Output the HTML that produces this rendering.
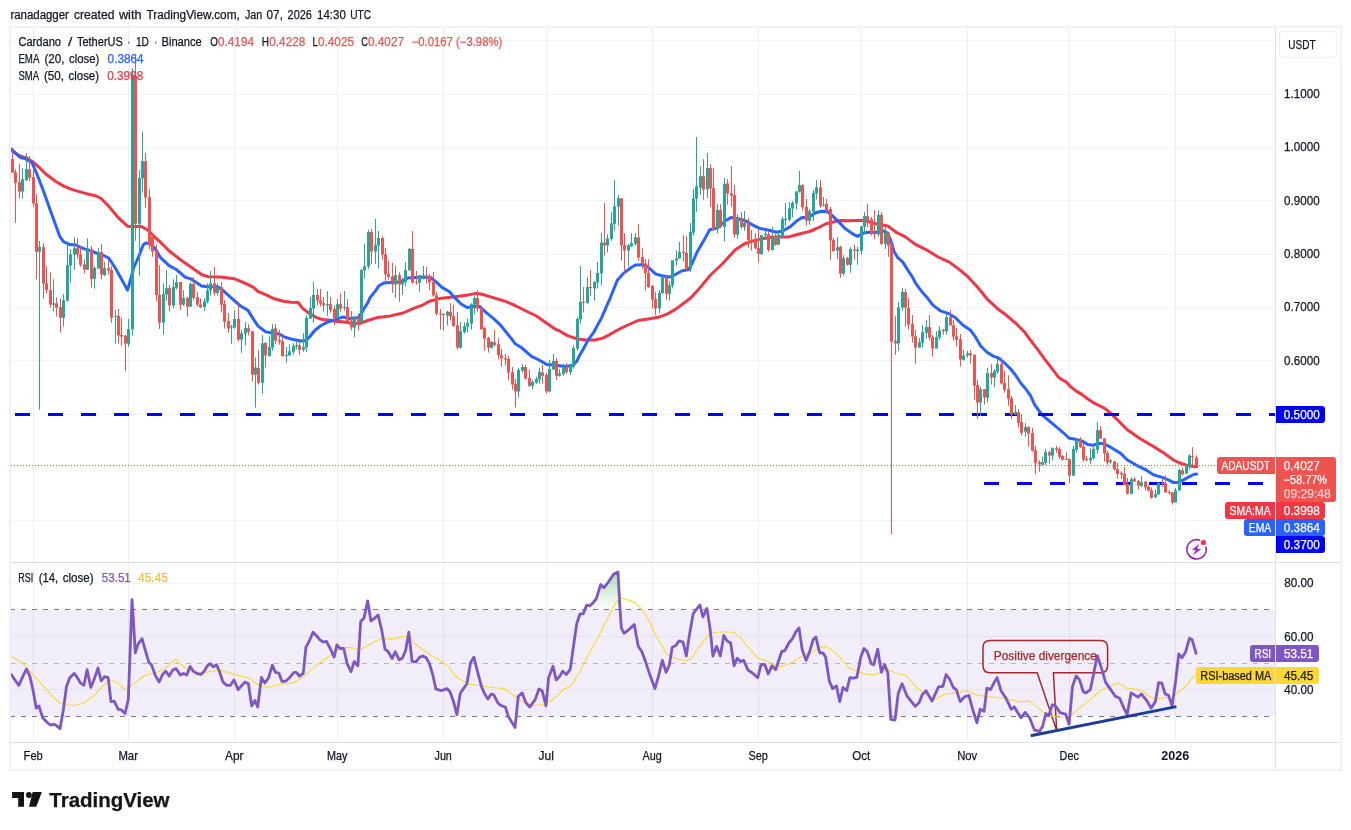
<!DOCTYPE html><html><head><meta charset="utf-8"><title>ADAUSDT</title>
<style>html,body{margin:0;padding:0;background:#fff;}body{width:1351px;height:830px;overflow:hidden;}svg{display:block;will-change:transform;font-family:"Liberation Sans",sans-serif;}</style></head><body>
<svg width="1351" height="830" viewBox="0 0 1351 830">
<defs>
<linearGradient id="gUp" x1="0" y1="571" x2="0" y2="609.5" gradientUnits="userSpaceOnUse"><stop offset="0" stop-color="#4caf50" stop-opacity="0.45"/><stop offset="1" stop-color="#4caf50" stop-opacity="0"/></linearGradient>
<linearGradient id="gDn" x1="0" y1="716" x2="0" y2="742" gradientUnits="userSpaceOnUse"><stop offset="0" stop-color="#ff5252" stop-opacity="0"/><stop offset="1" stop-color="#ff5252" stop-opacity="0.35"/></linearGradient>
<clipPath id="cUp"><rect x="11" y="563" width="1264" height="46.5"/></clipPath>
<clipPath id="cDn"><rect x="11" y="717" width="1264" height="25"/></clipPath>
<clipPath id="cPane"><rect x="11" y="28" width="1264" height="534"/></clipPath>
<clipPath id="cRsi"><rect x="11" y="563" width="1264" height="179"/></clipPath>
</defs>
<rect x="0" y="0" width="1351" height="830" fill="#ffffff"/>
<rect x="11" y="610" width="1264" height="106" fill="#f1eef9"/>
<rect x="11" y="40.00" width="1264" height="1" fill="#2a2e39" fill-opacity="0.06"/>
<rect x="11" y="94.00" width="1264" height="1" fill="#2a2e39" fill-opacity="0.06"/>
<rect x="11" y="147.00" width="1264" height="1" fill="#2a2e39" fill-opacity="0.06"/>
<rect x="11" y="200.00" width="1264" height="1" fill="#2a2e39" fill-opacity="0.06"/>
<rect x="11" y="254.00" width="1264" height="1" fill="#2a2e39" fill-opacity="0.06"/>
<rect x="11" y="307.00" width="1264" height="1" fill="#2a2e39" fill-opacity="0.06"/>
<rect x="11" y="360.00" width="1264" height="1" fill="#2a2e39" fill-opacity="0.06"/>
<rect x="11" y="414.00" width="1264" height="1" fill="#2a2e39" fill-opacity="0.06"/>
<rect x="11" y="467.00" width="1264" height="1" fill="#2a2e39" fill-opacity="0.06"/>
<rect x="11" y="520.00" width="1264" height="1" fill="#2a2e39" fill-opacity="0.06"/>
<rect x="11" y="583.00" width="1264" height="1" fill="#2a2e39" fill-opacity="0.06"/>
<rect x="11" y="636.00" width="1264" height="1" fill="#2a2e39" fill-opacity="0.06"/>
<rect x="11" y="689.00" width="1264" height="1" fill="#2a2e39" fill-opacity="0.06"/>
<rect x="33.00" y="28" width="1" height="714" fill="#2a2e39" fill-opacity="0.07"/>
<rect x="128.00" y="28" width="1" height="714" fill="#2a2e39" fill-opacity="0.07"/>
<rect x="234.00" y="28" width="1" height="714" fill="#2a2e39" fill-opacity="0.07"/>
<rect x="337.00" y="28" width="1" height="714" fill="#2a2e39" fill-opacity="0.07"/>
<rect x="443.00" y="28" width="1" height="714" fill="#2a2e39" fill-opacity="0.07"/>
<rect x="546.00" y="28" width="1" height="714" fill="#2a2e39" fill-opacity="0.07"/>
<rect x="652.00" y="28" width="1" height="714" fill="#2a2e39" fill-opacity="0.07"/>
<rect x="758.00" y="28" width="1" height="714" fill="#2a2e39" fill-opacity="0.07"/>
<rect x="861.00" y="28" width="1" height="714" fill="#2a2e39" fill-opacity="0.07"/>
<rect x="967.00" y="28" width="1" height="714" fill="#2a2e39" fill-opacity="0.07"/>
<rect x="1069.00" y="28" width="1" height="714" fill="#2a2e39" fill-opacity="0.07"/>
<rect x="1175.00" y="28" width="1" height="714" fill="#2a2e39" fill-opacity="0.07"/>
<rect x="10" y="27" width="1331" height="743" fill="none" stroke="#f2f2f3" stroke-width="2"/>
<rect x="1275" y="28" width="1" height="741" fill="#dfe0e4"/>
<rect x="11" y="742" width="1329" height="1" fill="#dfe0e4"/>
<rect x="11" y="562" width="1329" height="1" fill="#dfe0e4"/>
<g clip-path="url(#cPane)">
<polyline points="11.8,150.7 19.3,155.7 26.9,158.2 33.2,162.0 39.5,167.7 45.8,174.0 55.8,181.5 63.4,185.9 70.9,189.1 83.5,192.9 96.1,196.0 101.1,198.5 108.7,206.1 117.5,216.8 127.5,226.2 133.8,226.6 141.4,226.6 147.7,230.0 154.0,236.3 161.5,243.2 169.5,251.2 182.6,261.3 192.7,268.2 201.5,274.5 207.8,276.7 220.3,277.1 234.2,278.7 245.5,283.3 253.1,287.1 258.1,291.5 265.6,294.7 274.4,298.8 283.3,301.3 290.8,302.2 298.4,302.6 302.1,307.9 308.4,312.7 316.0,317.3 323.5,319.8 331.1,320.2 335.0,321.2 342.6,321.8 350.1,323.1 360.2,323.4 367.7,320.5 377.8,317.4 390.4,315.9 403.0,313.0 413.0,308.6 423.1,304.8 429.4,301.3 439.4,298.6 450.8,297.3 460.8,295.9 468.4,294.9 474.7,293.6 481.0,294.0 492.3,297.4 505.0,301.2 515.0,305.5 525.0,310.5 536.5,316.0 545.3,322.3 555.4,329.2 560.0,331.2 567.6,335.6 576.4,338.7 585.2,340.0 595.2,340.0 602.8,338.1 610.3,334.3 616.6,330.5 626.7,325.5 638.0,320.5 648.1,319.0 658.2,317.3 667.0,314.2 675.8,309.1 683.3,303.5 690.9,297.8 698.4,289.6 710.1,275.5 722.7,263.5 735.3,249.7 744.1,244.0 752.9,240.9 763.0,238.4 775.6,237.1 788.2,237.1 798.2,234.2 809.5,231.5 818.4,227.7 825.9,223.7 834.7,221.6 841.0,220.5 851.1,220.8 860.1,220.2 868.9,221.8 877.7,224.3 887.7,225.9 896.6,232.5 905.4,236.9 915.4,244.4 928.0,250.7 938.1,257.0 949.4,262.1 959.5,269.6 967.7,276.5 975.8,285.3 982.0,292.5 987.0,298.8 997.0,308.2 1007.1,315.8 1015.9,323.3 1024.7,332.2 1029.6,339.0 1034.5,345.3 1039.3,351.6 1044.1,358.3 1048.9,364.6 1053.7,370.8 1058.5,377.1 1062.4,380.0 1066.3,381.9 1070.1,386.3 1075.9,390.9 1081.7,394.4 1087.5,398.8 1093.2,402.6 1099.0,405.5 1104.8,408.4 1110.6,413.2 1116.4,418.8 1127.0,429.5 1139.5,438.3 1153.4,446.5 1163.5,452.8 1173.5,460.0 1179.3,462.8 1185.1,464.7 1190.8,466.1 1196.6,466.8" fill="none" stroke="#f23645" stroke-width="3.0" stroke-linejoin="round" stroke-linecap="round" />
<polyline points="11.8,149.4 15.5,153.2 20.6,157.6 25.6,158.9 31.9,162.6 36.9,174.0 43.2,190.3 49.5,208.0 55.8,225.6 59.6,236.0 63.4,241.7 69.7,244.6 76.0,245.1 83.5,248.6 89.8,250.5 96.1,253.0 103.6,255.5 108.7,258.0 115.0,267.5 121.3,278.8 127.5,290.1 129.4,283.8 133.8,267.5 138.9,256.1 143.3,244.8 145.8,242.9 151.4,244.2 155.9,249.8 160.3,257.4 169.1,265.6 176.3,269.5 185.1,277.1 191.4,279.2 201.5,285.9 207.8,286.7 217.8,286.7 222.9,290.3 230.4,297.2 240.5,306.0 248.0,310.4 253.1,318.6 258.1,326.1 265.6,331.8 270.7,332.8 278.2,333.7 285.8,337.5 293.3,339.6 300.9,340.9 305.9,340.6 309.7,336.8 314.7,330.5 321.0,325.5 328.6,321.7 335.0,319.7 342.6,317.1 350.1,318.4 358.9,317.6 362.1,312.4 363.9,308.7 367.7,302.9 370.2,297.4 375.3,291.1 379.0,285.7 384.1,282.9 391.6,282.3 400.4,281.9 408.0,277.9 415.5,277.5 423.1,277.0 430.6,277.5 435.7,281.7 442.0,287.4 449.5,291.8 454.5,297.4 460.8,303.7 467.1,307.5 473.4,306.6 479.7,306.6 486.0,312.4 493.6,318.6 499.8,324.3 503.8,329.2 511.4,338.6 515.1,343.7 521.4,347.5 531.5,356.3 539.0,360.0 546.6,364.4 555.4,365.3 565.5,366.6 573.0,365.3 576.8,361.3 579.5,355.5 583.1,349.5 587.7,340.6 594.0,331.8 601.5,317.9 610.3,297.8 617.3,280.2 622.9,273.9 630.5,268.0 635.5,265.0 641.8,264.7 648.1,267.2 655.6,273.9 661.9,275.8 669.5,277.1 675.8,274.3 682.1,270.8 688.4,269.7 692.1,263.5 697.2,251.8 703.5,241.1 709.7,229.8 714.8,228.5 717.7,227.7 725.2,221.0 730.9,217.5 737.8,218.8 745.4,220.7 752.9,225.1 759.2,228.2 768.0,230.0 776.8,232.2 783.1,230.8 790.7,226.4 797.0,220.7 802.0,217.5 808.3,217.7 814.6,213.2 820.9,211.2 827.2,211.4 832.2,215.7 838.5,221.6 844.8,228.3 852.3,233.6 857.5,236.3 863.8,233.1 868.9,232.2 875.2,232.5 882.7,230.6 887.7,233.1 891.5,242.6 894.0,251.4 897.8,257.7 902.9,262.1 907.9,270.2 912.9,277.8 915.4,282.8 921.7,291.6 926.6,296.9 932.9,305.1 940.4,310.8 948.0,313.3 955.5,317.7 963.1,325.2 970.6,330.3 975.6,337.2 980.7,346.0 987.0,352.3 993.3,356.1 998.3,357.9 1004.6,363.0 1010.9,369.3 1015.9,375.6 1020.9,383.2 1025.5,388.6 1030.5,395.7 1034.5,404.5 1042.0,414.8 1055.2,425.8 1064.0,433.3 1069.1,438.3 1075.4,439.2 1081.7,440.9 1088.0,444.6 1093.0,445.3 1098.0,443.4 1103.1,443.4 1110.6,447.2 1120.7,453.4 1127.0,459.7 1135.8,464.8 1145.8,469.8 1153.4,474.8 1162.2,477.4 1168.5,479.9 1173.5,482.6 1177.3,482.4 1183.6,479.9 1189.9,476.3 1193.7,474.5 1196.6,474.1" fill="none" stroke="#2962ff" stroke-width="3.0" stroke-linejoin="round" stroke-linecap="round" />
<rect x="15.0" y="413.0" width="15.0" height="3" fill="#0000ff"/>
<rect x="48.0" y="413.0" width="15.0" height="3" fill="#0000ff"/>
<rect x="81.0" y="413.0" width="15.0" height="3" fill="#0000ff"/>
<rect x="114.0" y="413.0" width="15.0" height="3" fill="#0000ff"/>
<rect x="147.0" y="413.0" width="15.0" height="3" fill="#0000ff"/>
<rect x="180.0" y="413.0" width="15.0" height="3" fill="#0000ff"/>
<rect x="213.0" y="413.0" width="15.0" height="3" fill="#0000ff"/>
<rect x="246.0" y="413.0" width="15.0" height="3" fill="#0000ff"/>
<rect x="279.0" y="413.0" width="15.0" height="3" fill="#0000ff"/>
<rect x="312.0" y="413.0" width="15.0" height="3" fill="#0000ff"/>
<rect x="345.0" y="413.0" width="15.0" height="3" fill="#0000ff"/>
<rect x="378.0" y="413.0" width="15.0" height="3" fill="#0000ff"/>
<rect x="411.0" y="413.0" width="15.0" height="3" fill="#0000ff"/>
<rect x="444.0" y="413.0" width="15.0" height="3" fill="#0000ff"/>
<rect x="477.0" y="413.0" width="15.0" height="3" fill="#0000ff"/>
<rect x="510.0" y="413.0" width="15.0" height="3" fill="#0000ff"/>
<rect x="543.0" y="413.0" width="15.0" height="3" fill="#0000ff"/>
<rect x="576.0" y="413.0" width="15.0" height="3" fill="#0000ff"/>
<rect x="609.0" y="413.0" width="15.0" height="3" fill="#0000ff"/>
<rect x="642.0" y="413.0" width="15.0" height="3" fill="#0000ff"/>
<rect x="675.0" y="413.0" width="15.0" height="3" fill="#0000ff"/>
<rect x="708.0" y="413.0" width="15.0" height="3" fill="#0000ff"/>
<rect x="741.0" y="413.0" width="15.0" height="3" fill="#0000ff"/>
<rect x="774.0" y="413.0" width="15.0" height="3" fill="#0000ff"/>
<rect x="807.0" y="413.0" width="15.0" height="3" fill="#0000ff"/>
<rect x="840.0" y="413.0" width="15.0" height="3" fill="#0000ff"/>
<rect x="873.0" y="413.0" width="15.0" height="3" fill="#0000ff"/>
<rect x="906.0" y="413.0" width="15.0" height="3" fill="#0000ff"/>
<rect x="939.0" y="413.0" width="15.0" height="3" fill="#0000ff"/>
<rect x="972.0" y="413.0" width="15.0" height="3" fill="#0000ff"/>
<rect x="1005.0" y="413.0" width="15.0" height="3" fill="#0000ff"/>
<rect x="1038.0" y="413.0" width="15.0" height="3" fill="#0000ff"/>
<rect x="1071.0" y="413.0" width="15.0" height="3" fill="#0000ff"/>
<rect x="1104.0" y="413.0" width="15.0" height="3" fill="#0000ff"/>
<rect x="1137.0" y="413.0" width="15.0" height="3" fill="#0000ff"/>
<rect x="1170.0" y="413.0" width="15.0" height="3" fill="#0000ff"/>
<rect x="1203.0" y="413.0" width="15.0" height="3" fill="#0000ff"/>
<rect x="1236.0" y="413.0" width="15.0" height="3" fill="#0000ff"/>
<rect x="1269.0" y="413.0" width="6.0" height="3" fill="#0000ff"/>
<rect x="984.0" y="482.0" width="15.0" height="3" fill="#0000ff"/>
<rect x="1017.0" y="482.0" width="15.0" height="3" fill="#0000ff"/>
<rect x="1050.0" y="482.0" width="15.0" height="3" fill="#0000ff"/>
<rect x="1083.0" y="482.0" width="15.0" height="3" fill="#0000ff"/>
<rect x="1116.0" y="482.0" width="15.0" height="3" fill="#0000ff"/>
<rect x="1149.0" y="482.0" width="15.0" height="3" fill="#0000ff"/>
<rect x="1182.0" y="482.0" width="15.0" height="3" fill="#0000ff"/>
<rect x="1215.0" y="482.0" width="15.0" height="3" fill="#0000ff"/>
<rect x="1248.0" y="482.0" width="15.0" height="3" fill="#0000ff"/>
<rect x="12" y="147.5" width="1" height="25.2" fill="#ef5350"/>
<rect x="11" y="159.1" width="3" height="13.6" fill="#ef5350"/>
<rect x="15" y="169.2" width="1" height="53.6" fill="#ef5350"/>
<rect x="14" y="172.1" width="3" height="10.7" fill="#ef5350"/>
<rect x="19" y="163.9" width="1" height="34.6" fill="#ef5350"/>
<rect x="18" y="182.2" width="3" height="9.4" fill="#ef5350"/>
<rect x="22" y="167.9" width="1" height="30.6" fill="#26a69a"/>
<rect x="21" y="179.3" width="3" height="12.3" fill="#26a69a"/>
<rect x="26" y="153.0" width="1" height="27.9" fill="#26a69a"/>
<rect x="25" y="169.2" width="3" height="10.8" fill="#26a69a"/>
<rect x="29" y="156.1" width="1" height="25.4" fill="#ef5350"/>
<rect x="28" y="169.2" width="3" height="8.5" fill="#ef5350"/>
<rect x="33" y="170.2" width="1" height="36.5" fill="#ef5350"/>
<rect x="32" y="177.1" width="3" height="26.4" fill="#ef5350"/>
<rect x="36" y="194.1" width="1" height="85.3" fill="#ef5350"/>
<rect x="35" y="203.3" width="3" height="48.4" fill="#ef5350"/>
<rect x="39" y="241.0" width="1" height="168.6" fill="#26a69a"/>
<rect x="38" y="247.1" width="3" height="4.6" fill="#26a69a"/>
<rect x="43" y="243.3" width="1" height="55.0" fill="#ef5350"/>
<rect x="42" y="247.1" width="3" height="36.5" fill="#ef5350"/>
<rect x="46" y="266.2" width="1" height="27.1" fill="#ef5350"/>
<rect x="45" y="283.2" width="3" height="6.9" fill="#ef5350"/>
<rect x="50" y="272.2" width="1" height="35.5" fill="#ef5350"/>
<rect x="49" y="290.1" width="3" height="14.5" fill="#ef5350"/>
<rect x="53" y="279.2" width="1" height="32.3" fill="#26a69a"/>
<rect x="52" y="303.3" width="3" height="1.3" fill="#26a69a"/>
<rect x="56" y="297.4" width="1" height="19.1" fill="#ef5350"/>
<rect x="55" y="303.3" width="3" height="4.4" fill="#ef5350"/>
<rect x="60" y="298.3" width="1" height="34.3" fill="#ef5350"/>
<rect x="59" y="307.1" width="3" height="10.7" fill="#ef5350"/>
<rect x="63" y="294.1" width="1" height="32.5" fill="#26a69a"/>
<rect x="62" y="300.2" width="3" height="17.6" fill="#26a69a"/>
<rect x="67" y="242.9" width="1" height="58.5" fill="#26a69a"/>
<rect x="66" y="265.2" width="3" height="35.6" fill="#26a69a"/>
<rect x="70" y="249.2" width="1" height="33.4" fill="#26a69a"/>
<rect x="69" y="254.2" width="3" height="11.4" fill="#26a69a"/>
<rect x="74" y="237.3" width="1" height="32.4" fill="#26a69a"/>
<rect x="73" y="248.2" width="3" height="6.4" fill="#26a69a"/>
<rect x="77" y="238.3" width="1" height="20.3" fill="#ef5350"/>
<rect x="76" y="248.2" width="3" height="6.4" fill="#ef5350"/>
<rect x="80" y="246.1" width="1" height="20.7" fill="#ef5350"/>
<rect x="79" y="254.2" width="3" height="10.5" fill="#ef5350"/>
<rect x="84" y="259.3" width="1" height="14.2" fill="#ef5350"/>
<rect x="83" y="264.3" width="3" height="5.4" fill="#ef5350"/>
<rect x="87" y="238.3" width="1" height="31.4" fill="#26a69a"/>
<rect x="86" y="248.6" width="3" height="21.1" fill="#26a69a"/>
<rect x="91" y="246.1" width="1" height="41.5" fill="#ef5350"/>
<rect x="90" y="249.2" width="3" height="29.6" fill="#ef5350"/>
<rect x="94" y="266.2" width="1" height="22.4" fill="#26a69a"/>
<rect x="93" y="268.1" width="3" height="10.7" fill="#26a69a"/>
<rect x="98" y="248.2" width="1" height="20.3" fill="#26a69a"/>
<rect x="97" y="252.1" width="3" height="16.4" fill="#26a69a"/>
<rect x="101" y="244.2" width="1" height="35.2" fill="#ef5350"/>
<rect x="100" y="252.1" width="3" height="22.3" fill="#ef5350"/>
<rect x="104" y="262.2" width="1" height="13.8" fill="#26a69a"/>
<rect x="103" y="268.1" width="3" height="6.9" fill="#26a69a"/>
<rect x="108" y="259.9" width="1" height="14.5" fill="#ef5350"/>
<rect x="107" y="268.1" width="3" height="2.5" fill="#ef5350"/>
<rect x="111" y="266.2" width="1" height="56.6" fill="#ef5350"/>
<rect x="110" y="270.0" width="3" height="47.8" fill="#ef5350"/>
<rect x="115" y="310.2" width="1" height="33.5" fill="#26a69a"/>
<rect x="114" y="315.7" width="3" height="1.1" fill="#26a69a"/>
<rect x="118" y="309.0" width="1" height="34.7" fill="#ef5350"/>
<rect x="117" y="315.9" width="3" height="19.6" fill="#ef5350"/>
<rect x="121" y="318.0" width="1" height="27.8" fill="#ef5350"/>
<rect x="120" y="334.8" width="3" height="1.8" fill="#ef5350"/>
<rect x="125" y="334.8" width="1" height="35.9" fill="#ef5350"/>
<rect x="124" y="335.7" width="3" height="8.0" fill="#ef5350"/>
<rect x="128" y="319.0" width="1" height="27.7" fill="#26a69a"/>
<rect x="127" y="329.1" width="3" height="14.6" fill="#26a69a"/>
<rect x="132" y="68.2" width="1" height="267.5" fill="#26a69a"/>
<rect x="131" y="74.5" width="3" height="254.9" fill="#26a69a"/>
<rect x="135" y="54.4" width="1" height="186.4" fill="#ef5350"/>
<rect x="134" y="75.8" width="3" height="147.9" fill="#ef5350"/>
<rect x="139" y="170.2" width="1" height="105.4" fill="#26a69a"/>
<rect x="138" y="178.1" width="3" height="45.6" fill="#26a69a"/>
<rect x="142" y="131.8" width="1" height="60.8" fill="#26a69a"/>
<rect x="141" y="161.1" width="3" height="17.3" fill="#26a69a"/>
<rect x="145" y="153.0" width="1" height="55.0" fill="#ef5350"/>
<rect x="144" y="161.1" width="3" height="36.5" fill="#ef5350"/>
<rect x="149" y="189.1" width="1" height="60.1" fill="#ef5350"/>
<rect x="148" y="197.3" width="3" height="47.3" fill="#ef5350"/>
<rect x="152" y="234.4" width="1" height="22.4" fill="#ef5350"/>
<rect x="151" y="237.0" width="3" height="14.7" fill="#ef5350"/>
<rect x="156" y="244.2" width="1" height="57.2" fill="#ef5350"/>
<rect x="155" y="251.1" width="3" height="44.0" fill="#ef5350"/>
<rect x="159" y="265.2" width="1" height="63.7" fill="#ef5350"/>
<rect x="158" y="294.9" width="3" height="27.7" fill="#ef5350"/>
<rect x="163" y="283.2" width="1" height="51.4" fill="#26a69a"/>
<rect x="162" y="294.1" width="3" height="28.5" fill="#26a69a"/>
<rect x="166" y="270.2" width="1" height="30.6" fill="#26a69a"/>
<rect x="165" y="288.2" width="3" height="6.3" fill="#26a69a"/>
<rect x="169" y="285.1" width="1" height="26.4" fill="#ef5350"/>
<rect x="168" y="288.2" width="3" height="17.3" fill="#ef5350"/>
<rect x="173" y="279.2" width="1" height="29.3" fill="#26a69a"/>
<rect x="172" y="287.0" width="3" height="18.5" fill="#26a69a"/>
<rect x="176" y="275.2" width="1" height="14.4" fill="#26a69a"/>
<rect x="175" y="282.2" width="3" height="5.5" fill="#26a69a"/>
<rect x="180" y="282.1" width="1" height="27.7" fill="#ef5350"/>
<rect x="179" y="282.1" width="3" height="22.6" fill="#ef5350"/>
<rect x="183" y="290.3" width="1" height="15.7" fill="#26a69a"/>
<rect x="182" y="298.1" width="3" height="6.6" fill="#26a69a"/>
<rect x="187" y="296.8" width="1" height="19.9" fill="#ef5350"/>
<rect x="186" y="297.8" width="3" height="8.8" fill="#ef5350"/>
<rect x="190" y="282.1" width="1" height="24.5" fill="#26a69a"/>
<rect x="189" y="284.0" width="3" height="22.6" fill="#26a69a"/>
<rect x="193" y="277.1" width="1" height="23.5" fill="#ef5350"/>
<rect x="192" y="284.0" width="3" height="13.8" fill="#ef5350"/>
<rect x="197" y="292.2" width="1" height="14.4" fill="#ef5350"/>
<rect x="196" y="297.2" width="3" height="7.5" fill="#ef5350"/>
<rect x="200" y="298.4" width="1" height="9.5" fill="#ef5350"/>
<rect x="199" y="304.4" width="3" height="2.9" fill="#ef5350"/>
<rect x="204" y="298.1" width="1" height="12.6" fill="#26a69a"/>
<rect x="203" y="301.3" width="3" height="5.6" fill="#26a69a"/>
<rect x="207" y="283.3" width="1" height="20.2" fill="#26a69a"/>
<rect x="206" y="290.3" width="3" height="11.3" fill="#26a69a"/>
<rect x="210" y="271.1" width="1" height="24.5" fill="#26a69a"/>
<rect x="209" y="283.3" width="3" height="7.2" fill="#26a69a"/>
<rect x="214" y="267.0" width="1" height="28.6" fill="#ef5350"/>
<rect x="213" y="283.3" width="3" height="9.5" fill="#ef5350"/>
<rect x="217" y="283.3" width="1" height="12.3" fill="#26a69a"/>
<rect x="216" y="286.9" width="3" height="5.9" fill="#26a69a"/>
<rect x="221" y="282.1" width="1" height="30.4" fill="#ef5350"/>
<rect x="220" y="287.1" width="3" height="17.6" fill="#ef5350"/>
<rect x="224" y="300.1" width="1" height="28.5" fill="#ef5350"/>
<rect x="223" y="304.1" width="3" height="17.6" fill="#ef5350"/>
<rect x="228" y="312.9" width="1" height="19.9" fill="#ef5350"/>
<rect x="227" y="321.1" width="3" height="7.5" fill="#ef5350"/>
<rect x="231" y="324.9" width="1" height="18.8" fill="#26a69a"/>
<rect x="230" y="326.5" width="3" height="1.1" fill="#26a69a"/>
<rect x="234" y="310.1" width="1" height="18.5" fill="#26a69a"/>
<rect x="233" y="319.0" width="3" height="8.6" fill="#26a69a"/>
<rect x="238" y="302.2" width="1" height="39.3" fill="#ef5350"/>
<rect x="237" y="319.0" width="3" height="20.6" fill="#ef5350"/>
<rect x="241" y="329.9" width="1" height="22.8" fill="#26a69a"/>
<rect x="240" y="333.3" width="3" height="6.3" fill="#26a69a"/>
<rect x="245" y="322.0" width="1" height="23.6" fill="#26a69a"/>
<rect x="244" y="328.0" width="3" height="5.6" fill="#26a69a"/>
<rect x="248" y="324.2" width="1" height="11.3" fill="#ef5350"/>
<rect x="247" y="328.3" width="3" height="3.5" fill="#ef5350"/>
<rect x="252" y="331.2" width="1" height="50.3" fill="#ef5350"/>
<rect x="251" y="331.2" width="3" height="43.5" fill="#ef5350"/>
<rect x="255" y="357.2" width="1" height="50.4" fill="#26a69a"/>
<rect x="254" y="367.4" width="3" height="7.3" fill="#26a69a"/>
<rect x="258" y="350.2" width="1" height="34.4" fill="#ef5350"/>
<rect x="257" y="368.0" width="3" height="14.7" fill="#ef5350"/>
<rect x="262" y="335.2" width="1" height="58.5" fill="#26a69a"/>
<rect x="261" y="343.3" width="3" height="39.4" fill="#26a69a"/>
<rect x="265" y="341.9" width="1" height="25.7" fill="#ef5350"/>
<rect x="264" y="343.0" width="3" height="12.5" fill="#ef5350"/>
<rect x="269" y="336.2" width="1" height="20.4" fill="#26a69a"/>
<rect x="268" y="347.0" width="3" height="9.1" fill="#26a69a"/>
<rect x="272" y="324.2" width="1" height="26.5" fill="#26a69a"/>
<rect x="271" y="329.0" width="3" height="18.6" fill="#26a69a"/>
<rect x="275" y="324.2" width="1" height="19.5" fill="#ef5350"/>
<rect x="274" y="328.3" width="3" height="12.4" fill="#ef5350"/>
<rect x="279" y="329.9" width="1" height="14.8" fill="#ef5350"/>
<rect x="278" y="340.1" width="3" height="1.7" fill="#ef5350"/>
<rect x="282" y="334.5" width="1" height="22.1" fill="#ef5350"/>
<rect x="281" y="341.3" width="3" height="14.8" fill="#ef5350"/>
<rect x="286" y="347.1" width="1" height="15.5" fill="#26a69a"/>
<rect x="285" y="355.1" width="3" height="1.0" fill="#26a69a"/>
<rect x="289" y="344.2" width="1" height="11.3" fill="#26a69a"/>
<rect x="288" y="351.3" width="3" height="4.2" fill="#26a69a"/>
<rect x="293" y="343.2" width="1" height="11.5" fill="#26a69a"/>
<rect x="292" y="346.0" width="3" height="5.8" fill="#26a69a"/>
<rect x="296" y="341.9" width="1" height="7.6" fill="#26a69a"/>
<rect x="295" y="345.2" width="3" height="1.2" fill="#26a69a"/>
<rect x="299" y="342.2" width="1" height="12.5" fill="#ef5350"/>
<rect x="298" y="345.2" width="3" height="4.6" fill="#ef5350"/>
<rect x="303" y="333.2" width="1" height="18.6" fill="#26a69a"/>
<rect x="302" y="347.1" width="3" height="2.8" fill="#26a69a"/>
<rect x="306" y="315.2" width="1" height="36.6" fill="#26a69a"/>
<rect x="305" y="318.0" width="3" height="29.6" fill="#26a69a"/>
<rect x="310" y="297.2" width="1" height="21.4" fill="#26a69a"/>
<rect x="309" y="308.1" width="3" height="10.5" fill="#26a69a"/>
<rect x="313" y="282.1" width="1" height="40.6" fill="#26a69a"/>
<rect x="312" y="295.0" width="3" height="13.5" fill="#26a69a"/>
<rect x="317" y="289.0" width="1" height="16.6" fill="#ef5350"/>
<rect x="316" y="295.0" width="3" height="5.6" fill="#ef5350"/>
<rect x="320" y="289.0" width="1" height="17.6" fill="#ef5350"/>
<rect x="319" y="300.3" width="3" height="3.2" fill="#ef5350"/>
<rect x="323" y="297.2" width="1" height="14.5" fill="#ef5350"/>
<rect x="322" y="303.1" width="3" height="2.3" fill="#ef5350"/>
<rect x="327" y="291.3" width="1" height="24.4" fill="#26a69a"/>
<rect x="326" y="304.1" width="3" height="1.3" fill="#26a69a"/>
<rect x="330" y="297.2" width="1" height="15.5" fill="#ef5350"/>
<rect x="329" y="304.1" width="3" height="5.7" fill="#ef5350"/>
<rect x="334" y="305.4" width="1" height="20.1" fill="#ef5350"/>
<rect x="333" y="308.9" width="3" height="9.1" fill="#ef5350"/>
<rect x="337" y="299.1" width="1" height="19.5" fill="#26a69a"/>
<rect x="336" y="304.2" width="3" height="13.8" fill="#26a69a"/>
<rect x="340" y="293.0" width="1" height="19.4" fill="#ef5350"/>
<rect x="339" y="304.2" width="3" height="4.4" fill="#ef5350"/>
<rect x="344" y="291.1" width="1" height="19.6" fill="#26a69a"/>
<rect x="343" y="307.0" width="3" height="1.0" fill="#26a69a"/>
<rect x="347" y="299.1" width="1" height="23.9" fill="#ef5350"/>
<rect x="346" y="307.2" width="3" height="14.0" fill="#ef5350"/>
<rect x="351" y="311.0" width="1" height="19.6" fill="#ef5350"/>
<rect x="350" y="320.5" width="3" height="7.0" fill="#ef5350"/>
<rect x="354" y="317.1" width="1" height="20.4" fill="#26a69a"/>
<rect x="353" y="318.0" width="3" height="9.5" fill="#26a69a"/>
<rect x="358" y="313.2" width="1" height="17.4" fill="#ef5350"/>
<rect x="357" y="318.0" width="3" height="5.9" fill="#ef5350"/>
<rect x="361" y="269.1" width="1" height="53.6" fill="#26a69a"/>
<rect x="360" y="270.1" width="3" height="52.6" fill="#26a69a"/>
<rect x="364" y="243.9" width="1" height="34.6" fill="#26a69a"/>
<rect x="363" y="266.3" width="3" height="4.1" fill="#26a69a"/>
<rect x="368" y="229.8" width="1" height="39.1" fill="#26a69a"/>
<rect x="367" y="232.0" width="3" height="34.6" fill="#26a69a"/>
<rect x="371" y="228.8" width="1" height="35.0" fill="#ef5350"/>
<rect x="370" y="232.0" width="3" height="19.5" fill="#ef5350"/>
<rect x="375" y="219.0" width="1" height="44.8" fill="#26a69a"/>
<rect x="374" y="245.2" width="3" height="6.3" fill="#26a69a"/>
<rect x="378" y="231.1" width="1" height="37.4" fill="#26a69a"/>
<rect x="377" y="238.0" width="3" height="7.6" fill="#26a69a"/>
<rect x="382" y="236.1" width="1" height="23.6" fill="#ef5350"/>
<rect x="381" y="238.0" width="3" height="16.6" fill="#ef5350"/>
<rect x="385" y="248.0" width="1" height="34.3" fill="#ef5350"/>
<rect x="384" y="254.3" width="3" height="20.1" fill="#ef5350"/>
<rect x="388" y="260.9" width="1" height="18.9" fill="#ef5350"/>
<rect x="387" y="274.1" width="3" height="2.6" fill="#ef5350"/>
<rect x="392" y="262.8" width="1" height="30.0" fill="#ef5350"/>
<rect x="391" y="276.4" width="3" height="8.1" fill="#ef5350"/>
<rect x="395" y="266.0" width="1" height="31.7" fill="#26a69a"/>
<rect x="394" y="275.1" width="3" height="9.4" fill="#26a69a"/>
<rect x="399" y="272.3" width="1" height="29.5" fill="#ef5350"/>
<rect x="398" y="275.1" width="3" height="9.4" fill="#ef5350"/>
<rect x="402" y="277.9" width="1" height="17.0" fill="#26a69a"/>
<rect x="401" y="281.7" width="3" height="2.8" fill="#26a69a"/>
<rect x="405" y="262.2" width="1" height="24.5" fill="#26a69a"/>
<rect x="404" y="270.1" width="3" height="12.2" fill="#26a69a"/>
<rect x="409" y="248.0" width="1" height="22.4" fill="#26a69a"/>
<rect x="408" y="249.0" width="3" height="21.4" fill="#26a69a"/>
<rect x="412" y="231.1" width="1" height="52.5" fill="#ef5350"/>
<rect x="411" y="249.0" width="3" height="33.7" fill="#ef5350"/>
<rect x="416" y="271.0" width="1" height="13.8" fill="#ef5350"/>
<rect x="415" y="282.3" width="3" height="1.0" fill="#ef5350"/>
<rect x="419" y="275.1" width="1" height="16.7" fill="#26a69a"/>
<rect x="418" y="275.4" width="3" height="7.3" fill="#26a69a"/>
<rect x="423" y="266.0" width="1" height="13.4" fill="#26a69a"/>
<rect x="422" y="275.7" width="3" height="1.0" fill="#26a69a"/>
<rect x="426" y="266.8" width="1" height="16.8" fill="#ef5350"/>
<rect x="425" y="275.7" width="3" height="1.2" fill="#ef5350"/>
<rect x="429" y="273.9" width="1" height="16.0" fill="#ef5350"/>
<rect x="428" y="276.4" width="3" height="5.9" fill="#ef5350"/>
<rect x="433" y="271.9" width="1" height="24.9" fill="#ef5350"/>
<rect x="432" y="281.9" width="3" height="13.6" fill="#ef5350"/>
<rect x="436" y="292.0" width="1" height="23.6" fill="#ef5350"/>
<rect x="435" y="295.3" width="3" height="18.4" fill="#ef5350"/>
<rect x="440" y="308.9" width="1" height="20.8" fill="#ef5350"/>
<rect x="439" y="313.5" width="3" height="1.0" fill="#ef5350"/>
<rect x="443" y="313.3" width="1" height="17.3" fill="#ef5350"/>
<rect x="442" y="314.0" width="3" height="1.0" fill="#ef5350"/>
<rect x="447" y="310.7" width="1" height="14.9" fill="#26a69a"/>
<rect x="446" y="311.8" width="3" height="3.8" fill="#26a69a"/>
<rect x="450" y="303.2" width="1" height="17.3" fill="#ef5350"/>
<rect x="449" y="311.8" width="3" height="4.7" fill="#ef5350"/>
<rect x="453" y="305.0" width="1" height="21.8" fill="#ef5350"/>
<rect x="452" y="316.2" width="3" height="9.7" fill="#ef5350"/>
<rect x="457" y="312.0" width="1" height="37.5" fill="#ef5350"/>
<rect x="456" y="325.2" width="3" height="22.4" fill="#ef5350"/>
<rect x="460" y="322.2" width="1" height="26.4" fill="#26a69a"/>
<rect x="459" y="331.2" width="3" height="16.6" fill="#26a69a"/>
<rect x="464" y="322.2" width="1" height="11.3" fill="#26a69a"/>
<rect x="463" y="326.2" width="3" height="5.7" fill="#26a69a"/>
<rect x="467" y="318.4" width="1" height="14.1" fill="#26a69a"/>
<rect x="466" y="323.1" width="3" height="3.5" fill="#26a69a"/>
<rect x="471" y="303.2" width="1" height="26.5" fill="#26a69a"/>
<rect x="470" y="304.2" width="3" height="19.5" fill="#26a69a"/>
<rect x="474" y="296.2" width="1" height="17.5" fill="#26a69a"/>
<rect x="473" y="298.0" width="3" height="6.6" fill="#26a69a"/>
<rect x="477" y="290.1" width="1" height="21.6" fill="#ef5350"/>
<rect x="476" y="298.0" width="3" height="10.6" fill="#ef5350"/>
<rect x="481" y="307.3" width="1" height="22.4" fill="#ef5350"/>
<rect x="480" y="308.0" width="3" height="21.0" fill="#ef5350"/>
<rect x="484" y="326.8" width="1" height="23.9" fill="#ef5350"/>
<rect x="483" y="328.1" width="3" height="10.7" fill="#ef5350"/>
<rect x="488" y="336.9" width="1" height="15.7" fill="#ef5350"/>
<rect x="487" y="337.8" width="3" height="9.8" fill="#ef5350"/>
<rect x="491" y="341.0" width="1" height="7.6" fill="#26a69a"/>
<rect x="490" y="341.9" width="3" height="5.9" fill="#26a69a"/>
<rect x="494" y="330.0" width="1" height="16.6" fill="#ef5350"/>
<rect x="493" y="342.3" width="3" height="2.5" fill="#ef5350"/>
<rect x="498" y="338.1" width="1" height="21.3" fill="#ef5350"/>
<rect x="497" y="344.2" width="3" height="11.1" fill="#ef5350"/>
<rect x="501" y="349.0" width="1" height="17.5" fill="#ef5350"/>
<rect x="500" y="355.2" width="3" height="3.2" fill="#ef5350"/>
<rect x="505" y="354.0" width="1" height="11.3" fill="#ef5350"/>
<rect x="504" y="358.4" width="3" height="1.3" fill="#ef5350"/>
<rect x="508" y="356.0" width="1" height="24.4" fill="#ef5350"/>
<rect x="507" y="359.0" width="3" height="13.6" fill="#ef5350"/>
<rect x="512" y="367.0" width="1" height="22.6" fill="#ef5350"/>
<rect x="511" y="372.0" width="3" height="12.6" fill="#ef5350"/>
<rect x="515" y="378.9" width="1" height="28.7" fill="#ef5350"/>
<rect x="514" y="384.0" width="3" height="7.5" fill="#ef5350"/>
<rect x="518" y="367.8" width="1" height="29.7" fill="#26a69a"/>
<rect x="517" y="369.9" width="3" height="21.6" fill="#26a69a"/>
<rect x="522" y="364.1" width="1" height="8.5" fill="#26a69a"/>
<rect x="521" y="367.0" width="3" height="3.7" fill="#26a69a"/>
<rect x="525" y="365.1" width="1" height="14.4" fill="#ef5350"/>
<rect x="524" y="367.0" width="3" height="11.7" fill="#ef5350"/>
<rect x="529" y="370.1" width="1" height="16.6" fill="#ef5350"/>
<rect x="528" y="377.9" width="3" height="7.9" fill="#ef5350"/>
<rect x="532" y="379.9" width="1" height="9.7" fill="#26a69a"/>
<rect x="531" y="382.1" width="3" height="3.7" fill="#26a69a"/>
<rect x="536" y="377.0" width="1" height="6.7" fill="#26a69a"/>
<rect x="535" y="378.9" width="3" height="3.8" fill="#26a69a"/>
<rect x="539" y="367.8" width="1" height="15.9" fill="#26a69a"/>
<rect x="538" y="372.0" width="3" height="7.5" fill="#26a69a"/>
<rect x="542" y="365.1" width="1" height="18.6" fill="#ef5350"/>
<rect x="541" y="372.4" width="3" height="3.4" fill="#ef5350"/>
<rect x="546" y="372.9" width="1" height="20.9" fill="#ef5350"/>
<rect x="545" y="374.9" width="3" height="16.6" fill="#ef5350"/>
<rect x="549" y="360.0" width="1" height="32.5" fill="#26a69a"/>
<rect x="548" y="369.1" width="3" height="22.4" fill="#26a69a"/>
<rect x="553" y="354.0" width="1" height="15.9" fill="#26a69a"/>
<rect x="552" y="361.0" width="3" height="8.5" fill="#26a69a"/>
<rect x="556" y="358.2" width="1" height="21.7" fill="#ef5350"/>
<rect x="555" y="361.0" width="3" height="14.8" fill="#ef5350"/>
<rect x="559" y="369.1" width="1" height="7.6" fill="#26a69a"/>
<rect x="558" y="373.3" width="3" height="2.5" fill="#26a69a"/>
<rect x="563" y="364.1" width="1" height="11.7" fill="#26a69a"/>
<rect x="562" y="367.8" width="3" height="6.1" fill="#26a69a"/>
<rect x="566" y="363.2" width="1" height="10.7" fill="#ef5350"/>
<rect x="565" y="367.8" width="3" height="4.2" fill="#ef5350"/>
<rect x="570" y="363.8" width="1" height="11.1" fill="#26a69a"/>
<rect x="569" y="365.3" width="3" height="6.7" fill="#26a69a"/>
<rect x="573" y="345.2" width="1" height="23.4" fill="#26a69a"/>
<rect x="572" y="348.1" width="3" height="18.5" fill="#26a69a"/>
<rect x="577" y="317.3" width="1" height="33.3" fill="#26a69a"/>
<rect x="576" y="318.8" width="3" height="29.7" fill="#26a69a"/>
<rect x="580" y="266.0" width="1" height="57.7" fill="#26a69a"/>
<rect x="579" y="301.8" width="3" height="17.5" fill="#26a69a"/>
<rect x="583" y="287.1" width="1" height="25.4" fill="#ef5350"/>
<rect x="582" y="301.8" width="3" height="1.0" fill="#ef5350"/>
<rect x="587" y="277.1" width="1" height="26.8" fill="#26a69a"/>
<rect x="586" y="287.1" width="3" height="15.8" fill="#26a69a"/>
<rect x="590" y="270.1" width="1" height="25.8" fill="#ef5350"/>
<rect x="589" y="287.1" width="3" height="1.0" fill="#ef5350"/>
<rect x="594" y="281.2" width="1" height="19.4" fill="#26a69a"/>
<rect x="593" y="282.1" width="3" height="6.3" fill="#26a69a"/>
<rect x="597" y="262.0" width="1" height="26.4" fill="#26a69a"/>
<rect x="596" y="273.0" width="3" height="9.5" fill="#26a69a"/>
<rect x="601" y="232.9" width="1" height="52.6" fill="#26a69a"/>
<rect x="600" y="242.4" width="3" height="30.9" fill="#26a69a"/>
<rect x="604" y="203.0" width="1" height="52.6" fill="#ef5350"/>
<rect x="603" y="242.4" width="3" height="3.1" fill="#ef5350"/>
<rect x="607" y="234.2" width="1" height="18.2" fill="#26a69a"/>
<rect x="606" y="238.6" width="3" height="6.9" fill="#26a69a"/>
<rect x="611" y="212.2" width="1" height="28.5" fill="#26a69a"/>
<rect x="610" y="223.5" width="3" height="15.5" fill="#26a69a"/>
<rect x="614" y="180.1" width="1" height="50.6" fill="#26a69a"/>
<rect x="613" y="206.2" width="3" height="17.7" fill="#26a69a"/>
<rect x="618" y="195.2" width="1" height="30.4" fill="#26a69a"/>
<rect x="617" y="198.3" width="3" height="8.2" fill="#26a69a"/>
<rect x="621" y="198.3" width="1" height="62.3" fill="#ef5350"/>
<rect x="620" y="198.3" width="3" height="47.2" fill="#ef5350"/>
<rect x="624" y="233.2" width="1" height="40.6" fill="#ef5350"/>
<rect x="623" y="245.2" width="3" height="5.3" fill="#ef5350"/>
<rect x="628" y="244.2" width="1" height="22.2" fill="#26a69a"/>
<rect x="627" y="245.2" width="3" height="5.3" fill="#26a69a"/>
<rect x="631" y="233.2" width="1" height="13.6" fill="#26a69a"/>
<rect x="630" y="243.2" width="3" height="2.9" fill="#26a69a"/>
<rect x="635" y="233.2" width="1" height="12.3" fill="#26a69a"/>
<rect x="634" y="237.3" width="3" height="6.3" fill="#26a69a"/>
<rect x="638" y="224.1" width="1" height="36.5" fill="#ef5350"/>
<rect x="637" y="237.3" width="3" height="20.2" fill="#ef5350"/>
<rect x="642" y="248.3" width="1" height="21.2" fill="#ef5350"/>
<rect x="641" y="257.0" width="3" height="6.6" fill="#ef5350"/>
<rect x="645" y="259.2" width="1" height="31.3" fill="#ef5350"/>
<rect x="644" y="263.3" width="3" height="10.0" fill="#ef5350"/>
<rect x="648" y="259.2" width="1" height="28.6" fill="#ef5350"/>
<rect x="647" y="273.0" width="3" height="14.1" fill="#ef5350"/>
<rect x="652" y="285.0" width="1" height="23.5" fill="#ef5350"/>
<rect x="651" y="285.9" width="3" height="13.8" fill="#ef5350"/>
<rect x="655" y="292.2" width="1" height="22.6" fill="#ef5350"/>
<rect x="654" y="299.1" width="3" height="9.4" fill="#ef5350"/>
<rect x="659" y="290.3" width="1" height="23.2" fill="#26a69a"/>
<rect x="658" y="293.0" width="3" height="15.5" fill="#26a69a"/>
<rect x="662" y="275.2" width="1" height="18.6" fill="#26a69a"/>
<rect x="661" y="277.4" width="3" height="15.6" fill="#26a69a"/>
<rect x="666" y="275.2" width="1" height="24.5" fill="#ef5350"/>
<rect x="665" y="277.9" width="3" height="15.9" fill="#ef5350"/>
<rect x="669" y="281.2" width="1" height="19.4" fill="#26a69a"/>
<rect x="668" y="285.2" width="3" height="8.6" fill="#26a69a"/>
<rect x="672" y="260.3" width="1" height="28.1" fill="#26a69a"/>
<rect x="671" y="260.3" width="3" height="25.2" fill="#26a69a"/>
<rect x="676" y="250.2" width="1" height="15.5" fill="#26a69a"/>
<rect x="675" y="258.4" width="3" height="2.3" fill="#26a69a"/>
<rect x="679" y="242.0" width="1" height="16.7" fill="#26a69a"/>
<rect x="678" y="252.1" width="3" height="6.3" fill="#26a69a"/>
<rect x="683" y="235.2" width="1" height="26.4" fill="#ef5350"/>
<rect x="682" y="252.0" width="3" height="1.0" fill="#ef5350"/>
<rect x="686" y="236.1" width="1" height="35.0" fill="#ef5350"/>
<rect x="685" y="252.9" width="3" height="16.0" fill="#ef5350"/>
<rect x="690" y="223.1" width="1" height="48.6" fill="#26a69a"/>
<rect x="689" y="231.9" width="3" height="36.9" fill="#26a69a"/>
<rect x="693" y="189.1" width="1" height="46.5" fill="#26a69a"/>
<rect x="692" y="198.5" width="3" height="34.2" fill="#26a69a"/>
<rect x="696" y="136.9" width="1" height="74.9" fill="#26a69a"/>
<rect x="695" y="186.3" width="3" height="12.3" fill="#26a69a"/>
<rect x="700" y="166.2" width="1" height="28.5" fill="#26a69a"/>
<rect x="699" y="176.2" width="3" height="11.4" fill="#26a69a"/>
<rect x="703" y="159.2" width="1" height="40.5" fill="#ef5350"/>
<rect x="702" y="176.2" width="3" height="13.5" fill="#ef5350"/>
<rect x="707" y="153.0" width="1" height="45.0" fill="#26a69a"/>
<rect x="706" y="168.1" width="3" height="21.3" fill="#26a69a"/>
<rect x="710" y="164.0" width="1" height="42.8" fill="#ef5350"/>
<rect x="709" y="168.1" width="3" height="20.4" fill="#ef5350"/>
<rect x="713" y="168.1" width="1" height="61.3" fill="#ef5350"/>
<rect x="712" y="188.1" width="3" height="41.3" fill="#ef5350"/>
<rect x="717" y="204.1" width="1" height="29.5" fill="#26a69a"/>
<rect x="716" y="210.0" width="3" height="19.5" fill="#26a69a"/>
<rect x="720" y="204.1" width="1" height="24.2" fill="#ef5350"/>
<rect x="719" y="210.0" width="3" height="17.2" fill="#ef5350"/>
<rect x="724" y="178.1" width="1" height="63.5" fill="#26a69a"/>
<rect x="723" y="184.1" width="3" height="42.7" fill="#26a69a"/>
<rect x="727" y="179.1" width="1" height="25.7" fill="#ef5350"/>
<rect x="726" y="183.4" width="3" height="10.2" fill="#ef5350"/>
<rect x="731" y="166.2" width="1" height="40.5" fill="#ef5350"/>
<rect x="730" y="193.3" width="3" height="2.4" fill="#ef5350"/>
<rect x="734" y="185.1" width="1" height="52.6" fill="#ef5350"/>
<rect x="733" y="195.2" width="3" height="39.4" fill="#ef5350"/>
<rect x="737" y="214.1" width="1" height="24.7" fill="#26a69a"/>
<rect x="736" y="218.1" width="3" height="16.5" fill="#26a69a"/>
<rect x="741" y="212.1" width="1" height="16.7" fill="#ef5350"/>
<rect x="740" y="218.1" width="3" height="8.9" fill="#ef5350"/>
<rect x="744" y="211.1" width="1" height="19.7" fill="#26a69a"/>
<rect x="743" y="223.0" width="3" height="4.0" fill="#26a69a"/>
<rect x="748" y="218.1" width="1" height="29.7" fill="#ef5350"/>
<rect x="747" y="223.0" width="3" height="17.3" fill="#ef5350"/>
<rect x="751" y="230.1" width="1" height="20.5" fill="#ef5350"/>
<rect x="750" y="240.0" width="3" height="2.5" fill="#ef5350"/>
<rect x="755" y="233.3" width="1" height="15.5" fill="#ef5350"/>
<rect x="754" y="239.6" width="3" height="8.8" fill="#ef5350"/>
<rect x="758" y="229.3" width="1" height="33.2" fill="#ef5350"/>
<rect x="757" y="248.1" width="3" height="5.8" fill="#ef5350"/>
<rect x="761" y="235.0" width="1" height="19.7" fill="#26a69a"/>
<rect x="760" y="235.2" width="3" height="18.9" fill="#26a69a"/>
<rect x="765" y="230.1" width="1" height="9.5" fill="#26a69a"/>
<rect x="764" y="233.7" width="3" height="1.3" fill="#26a69a"/>
<rect x="768" y="231.2" width="1" height="20.6" fill="#ef5350"/>
<rect x="767" y="234.2" width="3" height="15.9" fill="#ef5350"/>
<rect x="772" y="227.0" width="1" height="23.6" fill="#26a69a"/>
<rect x="771" y="236.7" width="3" height="13.4" fill="#26a69a"/>
<rect x="775" y="234.0" width="1" height="11.9" fill="#ef5350"/>
<rect x="774" y="236.7" width="3" height="8.0" fill="#ef5350"/>
<rect x="778" y="231.5" width="1" height="13.2" fill="#26a69a"/>
<rect x="777" y="235.0" width="3" height="9.7" fill="#26a69a"/>
<rect x="782" y="216.9" width="1" height="20.8" fill="#26a69a"/>
<rect x="781" y="219.1" width="3" height="17.4" fill="#26a69a"/>
<rect x="785" y="203.0" width="1" height="22.7" fill="#26a69a"/>
<rect x="784" y="218.8" width="3" height="1.1" fill="#26a69a"/>
<rect x="789" y="202.1" width="1" height="19.5" fill="#26a69a"/>
<rect x="788" y="208.2" width="3" height="11.5" fill="#26a69a"/>
<rect x="792" y="201.0" width="1" height="16.5" fill="#26a69a"/>
<rect x="791" y="202.9" width="3" height="5.7" fill="#26a69a"/>
<rect x="796" y="191.4" width="1" height="18.0" fill="#26a69a"/>
<rect x="795" y="191.4" width="3" height="12.1" fill="#26a69a"/>
<rect x="799" y="170.9" width="1" height="21.8" fill="#26a69a"/>
<rect x="798" y="185.1" width="3" height="6.6" fill="#26a69a"/>
<rect x="802" y="184.1" width="1" height="26.5" fill="#ef5350"/>
<rect x="801" y="185.1" width="3" height="22.2" fill="#ef5350"/>
<rect x="806" y="199.0" width="1" height="26.7" fill="#ef5350"/>
<rect x="805" y="207.0" width="3" height="13.7" fill="#ef5350"/>
<rect x="809" y="209.0" width="1" height="15.5" fill="#26a69a"/>
<rect x="808" y="211.1" width="3" height="9.6" fill="#26a69a"/>
<rect x="813" y="190.1" width="1" height="30.6" fill="#26a69a"/>
<rect x="812" y="192.9" width="3" height="18.8" fill="#26a69a"/>
<rect x="816" y="180.1" width="1" height="19.4" fill="#26a69a"/>
<rect x="815" y="187.3" width="3" height="6.2" fill="#26a69a"/>
<rect x="820" y="180.1" width="1" height="27.5" fill="#ef5350"/>
<rect x="819" y="187.3" width="3" height="18.3" fill="#ef5350"/>
<rect x="823" y="196.9" width="1" height="9.7" fill="#26a69a"/>
<rect x="822" y="204.6" width="3" height="1.0" fill="#26a69a"/>
<rect x="826" y="199.0" width="1" height="14.6" fill="#ef5350"/>
<rect x="825" y="204.1" width="3" height="5.9" fill="#ef5350"/>
<rect x="830" y="207.0" width="1" height="52.8" fill="#ef5350"/>
<rect x="829" y="209.0" width="3" height="31.5" fill="#ef5350"/>
<rect x="833" y="238.0" width="1" height="13.8" fill="#ef5350"/>
<rect x="832" y="240.0" width="3" height="11.0" fill="#ef5350"/>
<rect x="837" y="237.1" width="1" height="21.8" fill="#26a69a"/>
<rect x="836" y="247.2" width="3" height="3.4" fill="#26a69a"/>
<rect x="840" y="245.9" width="1" height="31.9" fill="#ef5350"/>
<rect x="839" y="246.8" width="3" height="26.8" fill="#ef5350"/>
<rect x="843" y="255.1" width="1" height="20.7" fill="#26a69a"/>
<rect x="842" y="258.1" width="3" height="15.5" fill="#26a69a"/>
<rect x="847" y="256.9" width="1" height="8.8" fill="#ef5350"/>
<rect x="846" y="257.9" width="3" height="6.9" fill="#ef5350"/>
<rect x="850" y="247.2" width="1" height="25.5" fill="#26a69a"/>
<rect x="849" y="249.1" width="3" height="15.7" fill="#26a69a"/>
<rect x="854" y="244.9" width="1" height="14.7" fill="#ef5350"/>
<rect x="853" y="249.4" width="3" height="1.3" fill="#ef5350"/>
<rect x="857" y="246.9" width="1" height="17.8" fill="#26a69a"/>
<rect x="856" y="249.8" width="3" height="1.2" fill="#26a69a"/>
<rect x="861" y="226.2" width="1" height="28.3" fill="#26a69a"/>
<rect x="860" y="226.2" width="3" height="24.5" fill="#26a69a"/>
<rect x="864" y="212.1" width="1" height="21.6" fill="#26a69a"/>
<rect x="863" y="216.1" width="3" height="10.5" fill="#26a69a"/>
<rect x="867" y="204.2" width="1" height="23.3" fill="#ef5350"/>
<rect x="866" y="216.1" width="3" height="4.4" fill="#ef5350"/>
<rect x="871" y="217.1" width="1" height="18.5" fill="#ef5350"/>
<rect x="870" y="219.3" width="3" height="14.4" fill="#ef5350"/>
<rect x="874" y="210.1" width="1" height="28.7" fill="#ef5350"/>
<rect x="873" y="232.7" width="3" height="1.7" fill="#ef5350"/>
<rect x="878" y="210.1" width="1" height="26.4" fill="#26a69a"/>
<rect x="877" y="214.9" width="3" height="19.5" fill="#26a69a"/>
<rect x="881" y="212.1" width="1" height="32.7" fill="#ef5350"/>
<rect x="880" y="214.9" width="3" height="28.9" fill="#ef5350"/>
<rect x="885" y="226.2" width="1" height="22.7" fill="#26a69a"/>
<rect x="884" y="232.5" width="3" height="11.3" fill="#26a69a"/>
<rect x="888" y="232.5" width="1" height="24.5" fill="#ef5350"/>
<rect x="887" y="232.5" width="3" height="13.2" fill="#ef5350"/>
<rect x="891" y="241.3" width="1" height="292.7" fill="#ef5350"/>
<rect x="890" y="245.1" width="3" height="96.5" fill="#ef5350"/>
<rect x="895" y="316.2" width="1" height="38.6" fill="#ef5350"/>
<rect x="894" y="341.0" width="3" height="2.5" fill="#ef5350"/>
<rect x="898" y="302.2" width="1" height="48.5" fill="#26a69a"/>
<rect x="897" y="307.4" width="3" height="36.1" fill="#26a69a"/>
<rect x="902" y="288.1" width="1" height="22.7" fill="#26a69a"/>
<rect x="901" y="292.0" width="3" height="15.6" fill="#26a69a"/>
<rect x="905" y="289.1" width="1" height="37.6" fill="#ef5350"/>
<rect x="904" y="292.0" width="3" height="15.6" fill="#ef5350"/>
<rect x="908" y="298.2" width="1" height="31.4" fill="#ef5350"/>
<rect x="907" y="308.0" width="3" height="16.6" fill="#ef5350"/>
<rect x="912" y="315.2" width="1" height="27.4" fill="#ef5350"/>
<rect x="911" y="324.0" width="3" height="12.6" fill="#ef5350"/>
<rect x="915" y="330.0" width="1" height="33.6" fill="#ef5350"/>
<rect x="914" y="336.3" width="3" height="11.3" fill="#ef5350"/>
<rect x="919" y="338.1" width="1" height="9.5" fill="#26a69a"/>
<rect x="918" y="342.2" width="3" height="5.4" fill="#26a69a"/>
<rect x="922" y="325.2" width="1" height="22.4" fill="#26a69a"/>
<rect x="921" y="332.2" width="3" height="10.4" fill="#26a69a"/>
<rect x="926" y="320.2" width="1" height="18.2" fill="#26a69a"/>
<rect x="925" y="327.1" width="3" height="5.7" fill="#26a69a"/>
<rect x="929" y="315.2" width="1" height="25.4" fill="#ef5350"/>
<rect x="928" y="327.1" width="3" height="10.5" fill="#ef5350"/>
<rect x="932" y="335.0" width="1" height="21.7" fill="#ef5350"/>
<rect x="931" y="337.2" width="3" height="11.3" fill="#ef5350"/>
<rect x="936" y="331.3" width="1" height="17.2" fill="#26a69a"/>
<rect x="935" y="337.2" width="3" height="11.3" fill="#26a69a"/>
<rect x="939" y="326.2" width="1" height="13.5" fill="#26a69a"/>
<rect x="938" y="330.3" width="3" height="7.3" fill="#26a69a"/>
<rect x="943" y="329.0" width="1" height="5.7" fill="#ef5350"/>
<rect x="942" y="330.0" width="3" height="1.0" fill="#ef5350"/>
<rect x="946" y="313.3" width="1" height="21.4" fill="#26a69a"/>
<rect x="945" y="317.1" width="3" height="14.2" fill="#26a69a"/>
<rect x="950" y="310.1" width="1" height="15.4" fill="#ef5350"/>
<rect x="949" y="317.1" width="3" height="8.4" fill="#ef5350"/>
<rect x="953" y="320.2" width="1" height="20.4" fill="#ef5350"/>
<rect x="952" y="325.2" width="3" height="11.4" fill="#ef5350"/>
<rect x="956" y="328.0" width="1" height="18.6" fill="#ef5350"/>
<rect x="955" y="336.3" width="3" height="3.4" fill="#ef5350"/>
<rect x="960" y="334.0" width="1" height="32.5" fill="#ef5350"/>
<rect x="959" y="339.1" width="3" height="20.4" fill="#ef5350"/>
<rect x="963" y="350.1" width="1" height="10.6" fill="#26a69a"/>
<rect x="962" y="355.4" width="3" height="4.4" fill="#26a69a"/>
<rect x="967" y="351.0" width="1" height="6.7" fill="#26a69a"/>
<rect x="966" y="353.3" width="3" height="2.1" fill="#26a69a"/>
<rect x="970" y="350.1" width="1" height="13.5" fill="#ef5350"/>
<rect x="969" y="353.3" width="3" height="2.1" fill="#ef5350"/>
<rect x="974" y="354.2" width="1" height="45.7" fill="#ef5350"/>
<rect x="973" y="354.8" width="3" height="30.9" fill="#ef5350"/>
<rect x="977" y="380.0" width="1" height="38.8" fill="#ef5350"/>
<rect x="976" y="385.0" width="3" height="17.6" fill="#ef5350"/>
<rect x="980" y="386.9" width="1" height="29.0" fill="#26a69a"/>
<rect x="979" y="389.2" width="3" height="13.4" fill="#26a69a"/>
<rect x="984" y="389.2" width="1" height="15.3" fill="#ef5350"/>
<rect x="983" y="389.2" width="3" height="8.4" fill="#ef5350"/>
<rect x="987" y="368.0" width="1" height="34.6" fill="#26a69a"/>
<rect x="986" y="373.0" width="3" height="24.6" fill="#26a69a"/>
<rect x="991" y="364.2" width="1" height="20.5" fill="#ef5350"/>
<rect x="990" y="373.0" width="3" height="4.5" fill="#ef5350"/>
<rect x="994" y="369.0" width="1" height="18.6" fill="#26a69a"/>
<rect x="993" y="371.2" width="3" height="6.3" fill="#26a69a"/>
<rect x="997" y="359.0" width="1" height="14.7" fill="#26a69a"/>
<rect x="996" y="364.2" width="3" height="7.6" fill="#26a69a"/>
<rect x="1001" y="357.3" width="1" height="27.3" fill="#ef5350"/>
<rect x="1000" y="364.2" width="3" height="19.2" fill="#ef5350"/>
<rect x="1004" y="370.2" width="1" height="22.4" fill="#ef5350"/>
<rect x="1003" y="383.1" width="3" height="6.8" fill="#ef5350"/>
<rect x="1008" y="375.3" width="1" height="30.5" fill="#ef5350"/>
<rect x="1007" y="389.2" width="3" height="9.4" fill="#ef5350"/>
<rect x="1011" y="396.1" width="1" height="22.7" fill="#ef5350"/>
<rect x="1010" y="398.2" width="3" height="16.4" fill="#ef5350"/>
<rect x="1015" y="405.2" width="1" height="9.4" fill="#26a69a"/>
<rect x="1014" y="412.1" width="3" height="2.5" fill="#26a69a"/>
<rect x="1018" y="409.2" width="1" height="18.4" fill="#ef5350"/>
<rect x="1017" y="412.1" width="3" height="10.7" fill="#ef5350"/>
<rect x="1021" y="414.1" width="1" height="21.6" fill="#ef5350"/>
<rect x="1020" y="422.1" width="3" height="10.7" fill="#ef5350"/>
<rect x="1025" y="423.1" width="1" height="13.5" fill="#26a69a"/>
<rect x="1024" y="427.1" width="3" height="4.6" fill="#26a69a"/>
<rect x="1028" y="426.2" width="1" height="20.4" fill="#ef5350"/>
<rect x="1027" y="427.1" width="3" height="6.5" fill="#ef5350"/>
<rect x="1032" y="428.0" width="1" height="23.6" fill="#ef5350"/>
<rect x="1031" y="432.9" width="3" height="18.0" fill="#ef5350"/>
<rect x="1035" y="445.9" width="1" height="28.1" fill="#ef5350"/>
<rect x="1034" y="450.3" width="3" height="12.6" fill="#ef5350"/>
<rect x="1039" y="460.1" width="1" height="11.6" fill="#ef5350"/>
<rect x="1038" y="462.3" width="3" height="2.1" fill="#ef5350"/>
<rect x="1042" y="456.8" width="1" height="8.9" fill="#26a69a"/>
<rect x="1041" y="462.3" width="3" height="2.5" fill="#26a69a"/>
<rect x="1045" y="449.0" width="1" height="16.1" fill="#26a69a"/>
<rect x="1044" y="452.2" width="3" height="10.7" fill="#26a69a"/>
<rect x="1049" y="450.9" width="1" height="12.6" fill="#ef5350"/>
<rect x="1048" y="452.2" width="3" height="3.4" fill="#ef5350"/>
<rect x="1052" y="447.2" width="1" height="13.4" fill="#26a69a"/>
<rect x="1051" y="448.2" width="3" height="7.4" fill="#26a69a"/>
<rect x="1056" y="445.9" width="1" height="6.9" fill="#ef5350"/>
<rect x="1055" y="448.2" width="3" height="1.5" fill="#ef5350"/>
<rect x="1059" y="447.2" width="1" height="11.3" fill="#ef5350"/>
<rect x="1058" y="449.0" width="3" height="7.8" fill="#ef5350"/>
<rect x="1062" y="455.1" width="1" height="5.5" fill="#ef5350"/>
<rect x="1061" y="456.0" width="3" height="3.7" fill="#ef5350"/>
<rect x="1066" y="452.2" width="1" height="7.5" fill="#ef5350"/>
<rect x="1065" y="458.9" width="3" height="1.0" fill="#ef5350"/>
<rect x="1069" y="458.1" width="1" height="24.7" fill="#ef5350"/>
<rect x="1068" y="459.1" width="3" height="16.6" fill="#ef5350"/>
<rect x="1073" y="445.9" width="1" height="29.8" fill="#26a69a"/>
<rect x="1072" y="449.0" width="3" height="26.7" fill="#26a69a"/>
<rect x="1076" y="438.0" width="1" height="14.6" fill="#26a69a"/>
<rect x="1075" y="440.2" width="3" height="9.5" fill="#26a69a"/>
<rect x="1080" y="437.1" width="1" height="10.7" fill="#ef5350"/>
<rect x="1079" y="440.2" width="3" height="7.0" fill="#ef5350"/>
<rect x="1083" y="444.0" width="1" height="17.6" fill="#ef5350"/>
<rect x="1082" y="446.5" width="3" height="13.2" fill="#ef5350"/>
<rect x="1086" y="456.0" width="1" height="5.6" fill="#ef5350"/>
<rect x="1085" y="458.9" width="3" height="1.2" fill="#ef5350"/>
<rect x="1090" y="448.2" width="1" height="15.7" fill="#26a69a"/>
<rect x="1089" y="458.1" width="3" height="2.3" fill="#26a69a"/>
<rect x="1093" y="445.3" width="1" height="13.6" fill="#26a69a"/>
<rect x="1092" y="449.0" width="3" height="9.5" fill="#26a69a"/>
<rect x="1097" y="422.0" width="1" height="31.8" fill="#26a69a"/>
<rect x="1096" y="430.2" width="3" height="19.5" fill="#26a69a"/>
<rect x="1100" y="426.1" width="1" height="12.6" fill="#ef5350"/>
<rect x="1099" y="430.2" width="3" height="8.5" fill="#ef5350"/>
<rect x="1104" y="438.0" width="1" height="23.6" fill="#ef5350"/>
<rect x="1103" y="438.3" width="3" height="15.1" fill="#ef5350"/>
<rect x="1107" y="450.9" width="1" height="13.9" fill="#ef5350"/>
<rect x="1106" y="453.1" width="3" height="9.5" fill="#ef5350"/>
<rect x="1110" y="458.9" width="1" height="5.0" fill="#26a69a"/>
<rect x="1109" y="460.4" width="3" height="1.5" fill="#26a69a"/>
<rect x="1114" y="461.0" width="1" height="9.4" fill="#ef5350"/>
<rect x="1113" y="461.4" width="3" height="8.0" fill="#ef5350"/>
<rect x="1117" y="462.9" width="1" height="15.7" fill="#ef5350"/>
<rect x="1116" y="469.2" width="3" height="4.8" fill="#ef5350"/>
<rect x="1121" y="471.4" width="1" height="7.2" fill="#ef5350"/>
<rect x="1120" y="472.9" width="3" height="1.6" fill="#ef5350"/>
<rect x="1124" y="467.0" width="1" height="18.5" fill="#ef5350"/>
<rect x="1123" y="474.0" width="3" height="10.9" fill="#ef5350"/>
<rect x="1127" y="478.0" width="1" height="16.6" fill="#ef5350"/>
<rect x="1126" y="483.6" width="3" height="10.1" fill="#ef5350"/>
<rect x="1131" y="477.4" width="1" height="17.2" fill="#26a69a"/>
<rect x="1130" y="479.2" width="3" height="14.5" fill="#26a69a"/>
<rect x="1134" y="477.0" width="1" height="4.5" fill="#ef5350"/>
<rect x="1133" y="479.2" width="3" height="2.3" fill="#ef5350"/>
<rect x="1138" y="480.1" width="1" height="9.5" fill="#ef5350"/>
<rect x="1137" y="480.9" width="3" height="4.6" fill="#ef5350"/>
<rect x="1141" y="476.1" width="1" height="10.7" fill="#26a69a"/>
<rect x="1140" y="482.4" width="3" height="3.8" fill="#26a69a"/>
<rect x="1145" y="480.9" width="1" height="9.7" fill="#ef5350"/>
<rect x="1144" y="481.8" width="3" height="5.6" fill="#ef5350"/>
<rect x="1148" y="484.9" width="1" height="6.7" fill="#ef5350"/>
<rect x="1147" y="486.8" width="3" height="3.8" fill="#ef5350"/>
<rect x="1151" y="487.4" width="1" height="11.3" fill="#ef5350"/>
<rect x="1150" y="490.3" width="3" height="7.6" fill="#ef5350"/>
<rect x="1155" y="489.3" width="1" height="8.2" fill="#26a69a"/>
<rect x="1154" y="494.3" width="3" height="3.2" fill="#26a69a"/>
<rect x="1158" y="482.0" width="1" height="12.6" fill="#26a69a"/>
<rect x="1157" y="483.0" width="3" height="11.6" fill="#26a69a"/>
<rect x="1162" y="479.2" width="1" height="7.6" fill="#ef5350"/>
<rect x="1161" y="483.0" width="3" height="1.0" fill="#ef5350"/>
<rect x="1165" y="475.2" width="1" height="17.3" fill="#ef5350"/>
<rect x="1164" y="483.2" width="3" height="9.3" fill="#ef5350"/>
<rect x="1169" y="490.1" width="1" height="4.6" fill="#ef5350"/>
<rect x="1168" y="491.9" width="3" height="1.0" fill="#ef5350"/>
<rect x="1172" y="492.3" width="1" height="12.4" fill="#ef5350"/>
<rect x="1171" y="492.5" width="3" height="10.0" fill="#ef5350"/>
<rect x="1175" y="488.1" width="1" height="14.4" fill="#26a69a"/>
<rect x="1174" y="490.2" width="3" height="12.3" fill="#26a69a"/>
<rect x="1179" y="469.1" width="1" height="21.4" fill="#26a69a"/>
<rect x="1178" y="469.9" width="3" height="20.6" fill="#26a69a"/>
<rect x="1182" y="467.5" width="1" height="8.3" fill="#ef5350"/>
<rect x="1181" y="470.3" width="3" height="3.7" fill="#ef5350"/>
<rect x="1186" y="464.0" width="1" height="9.6" fill="#26a69a"/>
<rect x="1185" y="466.2" width="3" height="7.4" fill="#26a69a"/>
<rect x="1189" y="454.1" width="1" height="15.6" fill="#26a69a"/>
<rect x="1188" y="455.6" width="3" height="11.3" fill="#26a69a"/>
<rect x="1192" y="447.2" width="1" height="18.0" fill="#ef5350"/>
<rect x="1191" y="456.0" width="3" height="1.0" fill="#ef5350"/>
<rect x="1196" y="455.4" width="1" height="10.8" fill="#ef5350"/>
<rect x="1195" y="457.5" width="3" height="8.5" fill="#ef5350"/>
<rect x="11.0" y="465" width="1" height="1" fill="#ef5350"/><rect x="14.0" y="465" width="1" height="1" fill="#ef5350"/><rect x="17.0" y="465" width="1" height="1" fill="#ef5350"/><rect x="20.0" y="465" width="1" height="1" fill="#ef5350"/><rect x="23.0" y="465" width="1" height="1" fill="#ef5350"/><rect x="26.0" y="465" width="1" height="1" fill="#ef5350"/><rect x="29.0" y="465" width="1" height="1" fill="#ef5350"/><rect x="32.0" y="465" width="1" height="1" fill="#ef5350"/><rect x="35.0" y="465" width="1" height="1" fill="#ef5350"/><rect x="38.0" y="465" width="1" height="1" fill="#ef5350"/><rect x="41.0" y="465" width="1" height="1" fill="#ef5350"/><rect x="44.0" y="465" width="1" height="1" fill="#ef5350"/><rect x="47.0" y="465" width="1" height="1" fill="#ef5350"/><rect x="50.0" y="465" width="1" height="1" fill="#ef5350"/><rect x="53.0" y="465" width="1" height="1" fill="#ef5350"/><rect x="56.0" y="465" width="1" height="1" fill="#ef5350"/><rect x="59.0" y="465" width="1" height="1" fill="#ef5350"/><rect x="62.0" y="465" width="1" height="1" fill="#ef5350"/><rect x="65.0" y="465" width="1" height="1" fill="#ef5350"/><rect x="68.0" y="465" width="1" height="1" fill="#ef5350"/><rect x="71.0" y="465" width="1" height="1" fill="#ef5350"/><rect x="74.0" y="465" width="1" height="1" fill="#ef5350"/><rect x="77.0" y="465" width="1" height="1" fill="#ef5350"/><rect x="80.0" y="465" width="1" height="1" fill="#ef5350"/><rect x="83.0" y="465" width="1" height="1" fill="#ef5350"/><rect x="86.0" y="465" width="1" height="1" fill="#ef5350"/><rect x="89.0" y="465" width="1" height="1" fill="#ef5350"/><rect x="92.0" y="465" width="1" height="1" fill="#ef5350"/><rect x="95.0" y="465" width="1" height="1" fill="#ef5350"/><rect x="98.0" y="465" width="1" height="1" fill="#ef5350"/><rect x="101.0" y="465" width="1" height="1" fill="#ef5350"/><rect x="104.0" y="465" width="1" height="1" fill="#ef5350"/><rect x="107.0" y="465" width="1" height="1" fill="#ef5350"/><rect x="110.0" y="465" width="1" height="1" fill="#ef5350"/><rect x="113.0" y="465" width="1" height="1" fill="#ef5350"/><rect x="116.0" y="465" width="1" height="1" fill="#ef5350"/><rect x="119.0" y="465" width="1" height="1" fill="#ef5350"/><rect x="122.0" y="465" width="1" height="1" fill="#ef5350"/><rect x="125.0" y="465" width="1" height="1" fill="#ef5350"/><rect x="128.0" y="465" width="1" height="1" fill="#ef5350"/><rect x="131.0" y="465" width="1" height="1" fill="#ef5350"/><rect x="134.0" y="465" width="1" height="1" fill="#ef5350"/><rect x="137.0" y="465" width="1" height="1" fill="#ef5350"/><rect x="140.0" y="465" width="1" height="1" fill="#ef5350"/><rect x="143.0" y="465" width="1" height="1" fill="#ef5350"/><rect x="146.0" y="465" width="1" height="1" fill="#ef5350"/><rect x="149.0" y="465" width="1" height="1" fill="#ef5350"/><rect x="152.0" y="465" width="1" height="1" fill="#ef5350"/><rect x="155.0" y="465" width="1" height="1" fill="#ef5350"/><rect x="158.0" y="465" width="1" height="1" fill="#ef5350"/><rect x="161.0" y="465" width="1" height="1" fill="#ef5350"/><rect x="164.0" y="465" width="1" height="1" fill="#ef5350"/><rect x="167.0" y="465" width="1" height="1" fill="#ef5350"/><rect x="170.0" y="465" width="1" height="1" fill="#ef5350"/><rect x="173.0" y="465" width="1" height="1" fill="#ef5350"/><rect x="176.0" y="465" width="1" height="1" fill="#ef5350"/><rect x="179.0" y="465" width="1" height="1" fill="#ef5350"/><rect x="182.0" y="465" width="1" height="1" fill="#ef5350"/><rect x="185.0" y="465" width="1" height="1" fill="#ef5350"/><rect x="188.0" y="465" width="1" height="1" fill="#ef5350"/><rect x="191.0" y="465" width="1" height="1" fill="#ef5350"/><rect x="194.0" y="465" width="1" height="1" fill="#ef5350"/><rect x="197.0" y="465" width="1" height="1" fill="#ef5350"/><rect x="200.0" y="465" width="1" height="1" fill="#ef5350"/><rect x="203.0" y="465" width="1" height="1" fill="#ef5350"/><rect x="206.0" y="465" width="1" height="1" fill="#ef5350"/><rect x="209.0" y="465" width="1" height="1" fill="#ef5350"/><rect x="212.0" y="465" width="1" height="1" fill="#ef5350"/><rect x="215.0" y="465" width="1" height="1" fill="#ef5350"/><rect x="218.0" y="465" width="1" height="1" fill="#ef5350"/><rect x="221.0" y="465" width="1" height="1" fill="#ef5350"/><rect x="224.0" y="465" width="1" height="1" fill="#ef5350"/><rect x="227.0" y="465" width="1" height="1" fill="#ef5350"/><rect x="230.0" y="465" width="1" height="1" fill="#ef5350"/><rect x="233.0" y="465" width="1" height="1" fill="#ef5350"/><rect x="236.0" y="465" width="1" height="1" fill="#ef5350"/><rect x="239.0" y="465" width="1" height="1" fill="#ef5350"/><rect x="242.0" y="465" width="1" height="1" fill="#ef5350"/><rect x="245.0" y="465" width="1" height="1" fill="#ef5350"/><rect x="248.0" y="465" width="1" height="1" fill="#ef5350"/><rect x="251.0" y="465" width="1" height="1" fill="#ef5350"/><rect x="254.0" y="465" width="1" height="1" fill="#ef5350"/><rect x="257.0" y="465" width="1" height="1" fill="#ef5350"/><rect x="260.0" y="465" width="1" height="1" fill="#ef5350"/><rect x="263.0" y="465" width="1" height="1" fill="#ef5350"/><rect x="266.0" y="465" width="1" height="1" fill="#ef5350"/><rect x="269.0" y="465" width="1" height="1" fill="#ef5350"/><rect x="272.0" y="465" width="1" height="1" fill="#ef5350"/><rect x="275.0" y="465" width="1" height="1" fill="#ef5350"/><rect x="278.0" y="465" width="1" height="1" fill="#ef5350"/><rect x="281.0" y="465" width="1" height="1" fill="#ef5350"/><rect x="284.0" y="465" width="1" height="1" fill="#ef5350"/><rect x="287.0" y="465" width="1" height="1" fill="#ef5350"/><rect x="290.0" y="465" width="1" height="1" fill="#ef5350"/><rect x="293.0" y="465" width="1" height="1" fill="#ef5350"/><rect x="296.0" y="465" width="1" height="1" fill="#ef5350"/><rect x="299.0" y="465" width="1" height="1" fill="#ef5350"/><rect x="302.0" y="465" width="1" height="1" fill="#ef5350"/><rect x="305.0" y="465" width="1" height="1" fill="#ef5350"/><rect x="308.0" y="465" width="1" height="1" fill="#ef5350"/><rect x="311.0" y="465" width="1" height="1" fill="#ef5350"/><rect x="314.0" y="465" width="1" height="1" fill="#ef5350"/><rect x="317.0" y="465" width="1" height="1" fill="#ef5350"/><rect x="320.0" y="465" width="1" height="1" fill="#ef5350"/><rect x="323.0" y="465" width="1" height="1" fill="#ef5350"/><rect x="326.0" y="465" width="1" height="1" fill="#ef5350"/><rect x="329.0" y="465" width="1" height="1" fill="#ef5350"/><rect x="332.0" y="465" width="1" height="1" fill="#ef5350"/><rect x="335.0" y="465" width="1" height="1" fill="#ef5350"/><rect x="338.0" y="465" width="1" height="1" fill="#ef5350"/><rect x="341.0" y="465" width="1" height="1" fill="#ef5350"/><rect x="344.0" y="465" width="1" height="1" fill="#ef5350"/><rect x="347.0" y="465" width="1" height="1" fill="#ef5350"/><rect x="350.0" y="465" width="1" height="1" fill="#ef5350"/><rect x="353.0" y="465" width="1" height="1" fill="#ef5350"/><rect x="356.0" y="465" width="1" height="1" fill="#ef5350"/><rect x="359.0" y="465" width="1" height="1" fill="#ef5350"/><rect x="362.0" y="465" width="1" height="1" fill="#ef5350"/><rect x="365.0" y="465" width="1" height="1" fill="#ef5350"/><rect x="368.0" y="465" width="1" height="1" fill="#ef5350"/><rect x="371.0" y="465" width="1" height="1" fill="#ef5350"/><rect x="374.0" y="465" width="1" height="1" fill="#ef5350"/><rect x="377.0" y="465" width="1" height="1" fill="#ef5350"/><rect x="380.0" y="465" width="1" height="1" fill="#ef5350"/><rect x="383.0" y="465" width="1" height="1" fill="#ef5350"/><rect x="386.0" y="465" width="1" height="1" fill="#ef5350"/><rect x="389.0" y="465" width="1" height="1" fill="#ef5350"/><rect x="392.0" y="465" width="1" height="1" fill="#ef5350"/><rect x="395.0" y="465" width="1" height="1" fill="#ef5350"/><rect x="398.0" y="465" width="1" height="1" fill="#ef5350"/><rect x="401.0" y="465" width="1" height="1" fill="#ef5350"/><rect x="404.0" y="465" width="1" height="1" fill="#ef5350"/><rect x="407.0" y="465" width="1" height="1" fill="#ef5350"/><rect x="410.0" y="465" width="1" height="1" fill="#ef5350"/><rect x="413.0" y="465" width="1" height="1" fill="#ef5350"/><rect x="416.0" y="465" width="1" height="1" fill="#ef5350"/><rect x="419.0" y="465" width="1" height="1" fill="#ef5350"/><rect x="422.0" y="465" width="1" height="1" fill="#ef5350"/><rect x="425.0" y="465" width="1" height="1" fill="#ef5350"/><rect x="428.0" y="465" width="1" height="1" fill="#ef5350"/><rect x="431.0" y="465" width="1" height="1" fill="#ef5350"/><rect x="434.0" y="465" width="1" height="1" fill="#ef5350"/><rect x="437.0" y="465" width="1" height="1" fill="#ef5350"/><rect x="440.0" y="465" width="1" height="1" fill="#ef5350"/><rect x="443.0" y="465" width="1" height="1" fill="#ef5350"/><rect x="446.0" y="465" width="1" height="1" fill="#ef5350"/><rect x="449.0" y="465" width="1" height="1" fill="#ef5350"/><rect x="452.0" y="465" width="1" height="1" fill="#ef5350"/><rect x="455.0" y="465" width="1" height="1" fill="#ef5350"/><rect x="458.0" y="465" width="1" height="1" fill="#ef5350"/><rect x="461.0" y="465" width="1" height="1" fill="#ef5350"/><rect x="464.0" y="465" width="1" height="1" fill="#ef5350"/><rect x="467.0" y="465" width="1" height="1" fill="#ef5350"/><rect x="470.0" y="465" width="1" height="1" fill="#ef5350"/><rect x="473.0" y="465" width="1" height="1" fill="#ef5350"/><rect x="476.0" y="465" width="1" height="1" fill="#ef5350"/><rect x="479.0" y="465" width="1" height="1" fill="#ef5350"/><rect x="482.0" y="465" width="1" height="1" fill="#ef5350"/><rect x="485.0" y="465" width="1" height="1" fill="#ef5350"/><rect x="488.0" y="465" width="1" height="1" fill="#ef5350"/><rect x="491.0" y="465" width="1" height="1" fill="#ef5350"/><rect x="494.0" y="465" width="1" height="1" fill="#ef5350"/><rect x="497.0" y="465" width="1" height="1" fill="#ef5350"/><rect x="500.0" y="465" width="1" height="1" fill="#ef5350"/><rect x="503.0" y="465" width="1" height="1" fill="#ef5350"/><rect x="506.0" y="465" width="1" height="1" fill="#ef5350"/><rect x="509.0" y="465" width="1" height="1" fill="#ef5350"/><rect x="512.0" y="465" width="1" height="1" fill="#ef5350"/><rect x="515.0" y="465" width="1" height="1" fill="#ef5350"/><rect x="518.0" y="465" width="1" height="1" fill="#ef5350"/><rect x="521.0" y="465" width="1" height="1" fill="#ef5350"/><rect x="524.0" y="465" width="1" height="1" fill="#ef5350"/><rect x="527.0" y="465" width="1" height="1" fill="#ef5350"/><rect x="530.0" y="465" width="1" height="1" fill="#ef5350"/><rect x="533.0" y="465" width="1" height="1" fill="#ef5350"/><rect x="536.0" y="465" width="1" height="1" fill="#ef5350"/><rect x="539.0" y="465" width="1" height="1" fill="#ef5350"/><rect x="542.0" y="465" width="1" height="1" fill="#ef5350"/><rect x="545.0" y="465" width="1" height="1" fill="#ef5350"/><rect x="548.0" y="465" width="1" height="1" fill="#ef5350"/><rect x="551.0" y="465" width="1" height="1" fill="#ef5350"/><rect x="554.0" y="465" width="1" height="1" fill="#ef5350"/><rect x="557.0" y="465" width="1" height="1" fill="#ef5350"/><rect x="560.0" y="465" width="1" height="1" fill="#ef5350"/><rect x="563.0" y="465" width="1" height="1" fill="#ef5350"/><rect x="566.0" y="465" width="1" height="1" fill="#ef5350"/><rect x="569.0" y="465" width="1" height="1" fill="#ef5350"/><rect x="572.0" y="465" width="1" height="1" fill="#ef5350"/><rect x="575.0" y="465" width="1" height="1" fill="#ef5350"/><rect x="578.0" y="465" width="1" height="1" fill="#ef5350"/><rect x="581.0" y="465" width="1" height="1" fill="#ef5350"/><rect x="584.0" y="465" width="1" height="1" fill="#ef5350"/><rect x="587.0" y="465" width="1" height="1" fill="#ef5350"/><rect x="590.0" y="465" width="1" height="1" fill="#ef5350"/><rect x="593.0" y="465" width="1" height="1" fill="#ef5350"/><rect x="596.0" y="465" width="1" height="1" fill="#ef5350"/><rect x="599.0" y="465" width="1" height="1" fill="#ef5350"/><rect x="602.0" y="465" width="1" height="1" fill="#ef5350"/><rect x="605.0" y="465" width="1" height="1" fill="#ef5350"/><rect x="608.0" y="465" width="1" height="1" fill="#ef5350"/><rect x="611.0" y="465" width="1" height="1" fill="#ef5350"/><rect x="614.0" y="465" width="1" height="1" fill="#ef5350"/><rect x="617.0" y="465" width="1" height="1" fill="#ef5350"/><rect x="620.0" y="465" width="1" height="1" fill="#ef5350"/><rect x="623.0" y="465" width="1" height="1" fill="#ef5350"/><rect x="626.0" y="465" width="1" height="1" fill="#ef5350"/><rect x="629.0" y="465" width="1" height="1" fill="#ef5350"/><rect x="632.0" y="465" width="1" height="1" fill="#ef5350"/><rect x="635.0" y="465" width="1" height="1" fill="#ef5350"/><rect x="638.0" y="465" width="1" height="1" fill="#ef5350"/><rect x="641.0" y="465" width="1" height="1" fill="#ef5350"/><rect x="644.0" y="465" width="1" height="1" fill="#ef5350"/><rect x="647.0" y="465" width="1" height="1" fill="#ef5350"/><rect x="650.0" y="465" width="1" height="1" fill="#ef5350"/><rect x="653.0" y="465" width="1" height="1" fill="#ef5350"/><rect x="656.0" y="465" width="1" height="1" fill="#ef5350"/><rect x="659.0" y="465" width="1" height="1" fill="#ef5350"/><rect x="662.0" y="465" width="1" height="1" fill="#ef5350"/><rect x="665.0" y="465" width="1" height="1" fill="#ef5350"/><rect x="668.0" y="465" width="1" height="1" fill="#ef5350"/><rect x="671.0" y="465" width="1" height="1" fill="#ef5350"/><rect x="674.0" y="465" width="1" height="1" fill="#ef5350"/><rect x="677.0" y="465" width="1" height="1" fill="#ef5350"/><rect x="680.0" y="465" width="1" height="1" fill="#ef5350"/><rect x="683.0" y="465" width="1" height="1" fill="#ef5350"/><rect x="686.0" y="465" width="1" height="1" fill="#ef5350"/><rect x="689.0" y="465" width="1" height="1" fill="#ef5350"/><rect x="692.0" y="465" width="1" height="1" fill="#ef5350"/><rect x="695.0" y="465" width="1" height="1" fill="#ef5350"/><rect x="698.0" y="465" width="1" height="1" fill="#ef5350"/><rect x="701.0" y="465" width="1" height="1" fill="#ef5350"/><rect x="704.0" y="465" width="1" height="1" fill="#ef5350"/><rect x="707.0" y="465" width="1" height="1" fill="#ef5350"/><rect x="710.0" y="465" width="1" height="1" fill="#ef5350"/><rect x="713.0" y="465" width="1" height="1" fill="#ef5350"/><rect x="716.0" y="465" width="1" height="1" fill="#ef5350"/><rect x="719.0" y="465" width="1" height="1" fill="#ef5350"/><rect x="722.0" y="465" width="1" height="1" fill="#ef5350"/><rect x="725.0" y="465" width="1" height="1" fill="#ef5350"/><rect x="728.0" y="465" width="1" height="1" fill="#ef5350"/><rect x="731.0" y="465" width="1" height="1" fill="#ef5350"/><rect x="734.0" y="465" width="1" height="1" fill="#ef5350"/><rect x="737.0" y="465" width="1" height="1" fill="#ef5350"/><rect x="740.0" y="465" width="1" height="1" fill="#ef5350"/><rect x="743.0" y="465" width="1" height="1" fill="#ef5350"/><rect x="746.0" y="465" width="1" height="1" fill="#ef5350"/><rect x="749.0" y="465" width="1" height="1" fill="#ef5350"/><rect x="752.0" y="465" width="1" height="1" fill="#ef5350"/><rect x="755.0" y="465" width="1" height="1" fill="#ef5350"/><rect x="758.0" y="465" width="1" height="1" fill="#ef5350"/><rect x="761.0" y="465" width="1" height="1" fill="#ef5350"/><rect x="764.0" y="465" width="1" height="1" fill="#ef5350"/><rect x="767.0" y="465" width="1" height="1" fill="#ef5350"/><rect x="770.0" y="465" width="1" height="1" fill="#ef5350"/><rect x="773.0" y="465" width="1" height="1" fill="#ef5350"/><rect x="776.0" y="465" width="1" height="1" fill="#ef5350"/><rect x="779.0" y="465" width="1" height="1" fill="#ef5350"/><rect x="782.0" y="465" width="1" height="1" fill="#ef5350"/><rect x="785.0" y="465" width="1" height="1" fill="#ef5350"/><rect x="788.0" y="465" width="1" height="1" fill="#ef5350"/><rect x="791.0" y="465" width="1" height="1" fill="#ef5350"/><rect x="794.0" y="465" width="1" height="1" fill="#ef5350"/><rect x="797.0" y="465" width="1" height="1" fill="#ef5350"/><rect x="800.0" y="465" width="1" height="1" fill="#ef5350"/><rect x="803.0" y="465" width="1" height="1" fill="#ef5350"/><rect x="806.0" y="465" width="1" height="1" fill="#ef5350"/><rect x="809.0" y="465" width="1" height="1" fill="#ef5350"/><rect x="812.0" y="465" width="1" height="1" fill="#ef5350"/><rect x="815.0" y="465" width="1" height="1" fill="#ef5350"/><rect x="818.0" y="465" width="1" height="1" fill="#ef5350"/><rect x="821.0" y="465" width="1" height="1" fill="#ef5350"/><rect x="824.0" y="465" width="1" height="1" fill="#ef5350"/><rect x="827.0" y="465" width="1" height="1" fill="#ef5350"/><rect x="830.0" y="465" width="1" height="1" fill="#ef5350"/><rect x="833.0" y="465" width="1" height="1" fill="#ef5350"/><rect x="836.0" y="465" width="1" height="1" fill="#ef5350"/><rect x="839.0" y="465" width="1" height="1" fill="#ef5350"/><rect x="842.0" y="465" width="1" height="1" fill="#ef5350"/><rect x="845.0" y="465" width="1" height="1" fill="#ef5350"/><rect x="848.0" y="465" width="1" height="1" fill="#ef5350"/><rect x="851.0" y="465" width="1" height="1" fill="#ef5350"/><rect x="854.0" y="465" width="1" height="1" fill="#ef5350"/><rect x="857.0" y="465" width="1" height="1" fill="#ef5350"/><rect x="860.0" y="465" width="1" height="1" fill="#ef5350"/><rect x="863.0" y="465" width="1" height="1" fill="#ef5350"/><rect x="866.0" y="465" width="1" height="1" fill="#ef5350"/><rect x="869.0" y="465" width="1" height="1" fill="#ef5350"/><rect x="872.0" y="465" width="1" height="1" fill="#ef5350"/><rect x="875.0" y="465" width="1" height="1" fill="#ef5350"/><rect x="878.0" y="465" width="1" height="1" fill="#ef5350"/><rect x="881.0" y="465" width="1" height="1" fill="#ef5350"/><rect x="884.0" y="465" width="1" height="1" fill="#ef5350"/><rect x="887.0" y="465" width="1" height="1" fill="#ef5350"/><rect x="890.0" y="465" width="1" height="1" fill="#ef5350"/><rect x="893.0" y="465" width="1" height="1" fill="#ef5350"/><rect x="896.0" y="465" width="1" height="1" fill="#ef5350"/><rect x="899.0" y="465" width="1" height="1" fill="#ef5350"/><rect x="902.0" y="465" width="1" height="1" fill="#ef5350"/><rect x="905.0" y="465" width="1" height="1" fill="#ef5350"/><rect x="908.0" y="465" width="1" height="1" fill="#ef5350"/><rect x="911.0" y="465" width="1" height="1" fill="#ef5350"/><rect x="914.0" y="465" width="1" height="1" fill="#ef5350"/><rect x="917.0" y="465" width="1" height="1" fill="#ef5350"/><rect x="920.0" y="465" width="1" height="1" fill="#ef5350"/><rect x="923.0" y="465" width="1" height="1" fill="#ef5350"/><rect x="926.0" y="465" width="1" height="1" fill="#ef5350"/><rect x="929.0" y="465" width="1" height="1" fill="#ef5350"/><rect x="932.0" y="465" width="1" height="1" fill="#ef5350"/><rect x="935.0" y="465" width="1" height="1" fill="#ef5350"/><rect x="938.0" y="465" width="1" height="1" fill="#ef5350"/><rect x="941.0" y="465" width="1" height="1" fill="#ef5350"/><rect x="944.0" y="465" width="1" height="1" fill="#ef5350"/><rect x="947.0" y="465" width="1" height="1" fill="#ef5350"/><rect x="950.0" y="465" width="1" height="1" fill="#ef5350"/><rect x="953.0" y="465" width="1" height="1" fill="#ef5350"/><rect x="956.0" y="465" width="1" height="1" fill="#ef5350"/><rect x="959.0" y="465" width="1" height="1" fill="#ef5350"/><rect x="962.0" y="465" width="1" height="1" fill="#ef5350"/><rect x="965.0" y="465" width="1" height="1" fill="#ef5350"/><rect x="968.0" y="465" width="1" height="1" fill="#ef5350"/><rect x="971.0" y="465" width="1" height="1" fill="#ef5350"/><rect x="974.0" y="465" width="1" height="1" fill="#ef5350"/><rect x="977.0" y="465" width="1" height="1" fill="#ef5350"/><rect x="980.0" y="465" width="1" height="1" fill="#ef5350"/><rect x="983.0" y="465" width="1" height="1" fill="#ef5350"/><rect x="986.0" y="465" width="1" height="1" fill="#ef5350"/><rect x="989.0" y="465" width="1" height="1" fill="#ef5350"/><rect x="992.0" y="465" width="1" height="1" fill="#ef5350"/><rect x="995.0" y="465" width="1" height="1" fill="#ef5350"/><rect x="998.0" y="465" width="1" height="1" fill="#ef5350"/><rect x="1001.0" y="465" width="1" height="1" fill="#ef5350"/><rect x="1004.0" y="465" width="1" height="1" fill="#ef5350"/><rect x="1007.0" y="465" width="1" height="1" fill="#ef5350"/><rect x="1010.0" y="465" width="1" height="1" fill="#ef5350"/><rect x="1013.0" y="465" width="1" height="1" fill="#ef5350"/><rect x="1016.0" y="465" width="1" height="1" fill="#ef5350"/><rect x="1019.0" y="465" width="1" height="1" fill="#ef5350"/><rect x="1022.0" y="465" width="1" height="1" fill="#ef5350"/><rect x="1025.0" y="465" width="1" height="1" fill="#ef5350"/><rect x="1028.0" y="465" width="1" height="1" fill="#ef5350"/><rect x="1031.0" y="465" width="1" height="1" fill="#ef5350"/><rect x="1034.0" y="465" width="1" height="1" fill="#ef5350"/><rect x="1037.0" y="465" width="1" height="1" fill="#ef5350"/><rect x="1040.0" y="465" width="1" height="1" fill="#ef5350"/><rect x="1043.0" y="465" width="1" height="1" fill="#ef5350"/><rect x="1046.0" y="465" width="1" height="1" fill="#ef5350"/><rect x="1049.0" y="465" width="1" height="1" fill="#ef5350"/><rect x="1052.0" y="465" width="1" height="1" fill="#ef5350"/><rect x="1055.0" y="465" width="1" height="1" fill="#ef5350"/><rect x="1058.0" y="465" width="1" height="1" fill="#ef5350"/><rect x="1061.0" y="465" width="1" height="1" fill="#ef5350"/><rect x="1064.0" y="465" width="1" height="1" fill="#ef5350"/><rect x="1067.0" y="465" width="1" height="1" fill="#ef5350"/><rect x="1070.0" y="465" width="1" height="1" fill="#ef5350"/><rect x="1073.0" y="465" width="1" height="1" fill="#ef5350"/><rect x="1076.0" y="465" width="1" height="1" fill="#ef5350"/><rect x="1079.0" y="465" width="1" height="1" fill="#ef5350"/><rect x="1082.0" y="465" width="1" height="1" fill="#ef5350"/><rect x="1085.0" y="465" width="1" height="1" fill="#ef5350"/><rect x="1088.0" y="465" width="1" height="1" fill="#ef5350"/><rect x="1091.0" y="465" width="1" height="1" fill="#ef5350"/><rect x="1094.0" y="465" width="1" height="1" fill="#ef5350"/><rect x="1097.0" y="465" width="1" height="1" fill="#ef5350"/><rect x="1100.0" y="465" width="1" height="1" fill="#ef5350"/><rect x="1103.0" y="465" width="1" height="1" fill="#ef5350"/><rect x="1106.0" y="465" width="1" height="1" fill="#ef5350"/><rect x="1109.0" y="465" width="1" height="1" fill="#ef5350"/><rect x="1112.0" y="465" width="1" height="1" fill="#ef5350"/><rect x="1115.0" y="465" width="1" height="1" fill="#ef5350"/><rect x="1118.0" y="465" width="1" height="1" fill="#ef5350"/><rect x="1121.0" y="465" width="1" height="1" fill="#ef5350"/><rect x="1124.0" y="465" width="1" height="1" fill="#ef5350"/><rect x="1127.0" y="465" width="1" height="1" fill="#ef5350"/><rect x="1130.0" y="465" width="1" height="1" fill="#ef5350"/><rect x="1133.0" y="465" width="1" height="1" fill="#ef5350"/><rect x="1136.0" y="465" width="1" height="1" fill="#ef5350"/><rect x="1139.0" y="465" width="1" height="1" fill="#ef5350"/><rect x="1142.0" y="465" width="1" height="1" fill="#ef5350"/><rect x="1145.0" y="465" width="1" height="1" fill="#ef5350"/><rect x="1148.0" y="465" width="1" height="1" fill="#ef5350"/><rect x="1151.0" y="465" width="1" height="1" fill="#ef5350"/><rect x="1154.0" y="465" width="1" height="1" fill="#ef5350"/><rect x="1157.0" y="465" width="1" height="1" fill="#ef5350"/><rect x="1160.0" y="465" width="1" height="1" fill="#ef5350"/><rect x="1163.0" y="465" width="1" height="1" fill="#ef5350"/><rect x="1166.0" y="465" width="1" height="1" fill="#ef5350"/><rect x="1169.0" y="465" width="1" height="1" fill="#ef5350"/><rect x="1172.0" y="465" width="1" height="1" fill="#ef5350"/><rect x="1175.0" y="465" width="1" height="1" fill="#ef5350"/><rect x="1178.0" y="465" width="1" height="1" fill="#ef5350"/><rect x="1181.0" y="465" width="1" height="1" fill="#ef5350"/><rect x="1184.0" y="465" width="1" height="1" fill="#ef5350"/><rect x="1187.0" y="465" width="1" height="1" fill="#ef5350"/><rect x="1190.0" y="465" width="1" height="1" fill="#ef5350"/><rect x="1193.0" y="465" width="1" height="1" fill="#ef5350"/><rect x="1196.0" y="465" width="1" height="1" fill="#ef5350"/><rect x="1199.0" y="465" width="1" height="1" fill="#ef5350"/><rect x="1202.0" y="465" width="1" height="1" fill="#ef5350"/><rect x="1205.0" y="465" width="1" height="1" fill="#ef5350"/><rect x="1208.0" y="465" width="1" height="1" fill="#ef5350"/><rect x="1211.0" y="465" width="1" height="1" fill="#ef5350"/><rect x="1214.0" y="465" width="1" height="1" fill="#ef5350"/>
</g>
<g clip-path="url(#cRsi)">
<polygon points="11.3,609.5 11.3,674.5 15.6,681.0 18.8,685.3 23.2,675.6 26.4,669.1 29.7,675.6 32.9,689.6 36.2,708.1 39.0,705.9 42.7,717.8 47.0,722.2 50.3,725.0 54.0,724.3 56.8,725.9 60.0,728.7 63.3,710.2 66.5,686.4 69.8,677.7 74.1,673.4 77.4,677.7 80.6,683.1 83.9,685.3 87.1,669.7 90.8,687.5 94.7,677.7 98.0,668.0 101.2,681.0 104.5,676.6 108.2,677.7 111.0,701.6 114.2,701.1 118.1,709.2 121.8,710.2 125.1,713.5 128.3,699.4 130.5,640.9 132.0,599.7 133.3,619.2 135.3,652.8 138.1,644.1 142.0,638.7 145.7,651.7 148.9,662.5 151.5,664.7 155.4,675.6 159.1,682.1 162.6,674.5 165.8,671.2 169.1,676.0 172.8,670.1 176.0,668.6 180.3,675.1 183.6,673.4 186.8,675.1 190.1,666.5 193.3,671.2 196.6,673.4 200.9,674.5 204.2,671.2 207.4,665.8 210.0,663.6 213.5,666.9 216.5,664.7 219.4,671.2 223.0,682.1 226.9,685.3 230.5,685.3 233.9,679.9 238.2,689.6 241.9,685.3 245.2,682.1 248.4,683.8 251.7,705.9 254.9,700.5 257.7,707.0 261.4,677.3 264.7,683.1 268.6,677.7 272.3,665.2 275.5,672.3 278.8,673.0 282.0,681.6 285.9,681.0 289.6,677.7 293.9,672.3 296.1,672.3 299.4,676.0 303.3,673.4 305.9,647.4 309.8,639.8 313.0,632.2 316.3,635.5 320.0,639.8 323.2,642.0 326.5,641.3 330.2,648.5 334.1,657.1 336.9,644.8 340.1,648.5 343.8,648.5 347.1,663.6 351.0,671.7 354.2,661.5 357.9,665.8 360.7,621.4 364.0,618.1 367.7,600.8 370.9,620.9 374.8,618.1 378.1,614.9 381.7,630.0 385.0,649.1 388.2,651.7 392.1,658.6 395.2,651.7 399.1,659.7 402.3,658.2 405.6,650.6 408.8,632.2 412.1,661.5 416.0,661.9 419.7,657.1 422.9,656.0 426.2,657.8 429.4,663.6 432.7,674.5 435.9,689.0 441.4,690.7 446.8,688.6 450.0,691.8 453.3,700.9 456.9,714.6 460.2,693.5 463.4,688.6 466.9,683.8 470.6,662.5 473.8,657.1 477.7,672.3 481.4,686.4 484.7,694.0 487.9,699.0 491.2,694.0 494.0,695.1 497.7,702.7 500.9,705.5 505.3,707.0 508.5,716.7 515.0,727.6 518.3,696.2 522.2,692.9 525.9,702.7 529.8,707.0 535.2,699.4 538.9,689.0 542.1,690.7 546.0,705.9 548.6,677.7 553.0,666.2 556.2,679.9 559.5,676.6 562.7,671.2 566.4,674.5 570.3,669.1 573.6,645.2 576.8,623.5 580.1,613.8 583.3,613.8 586.6,605.1 589.8,605.8 593.1,602.9 596.3,598.6 600.7,584.5 603.9,587.8 608.2,582.3 613.7,574.1 618.0,571.9 619.7,604.0 621.3,627.9 624.1,633.3 628.8,629.6 634.3,624.6 638.2,646.3 641.9,651.7 645.1,660.4 649.4,673.4 654.9,688.6 658.1,677.7 662.4,660.4 666.1,672.3 669.4,664.7 672.2,647.2 675.5,645.8 679.1,640.9 683.0,642.0 686.3,656.0 689.5,634.4 693.2,613.8 696.4,609.4 699.9,605.1 702.9,617.0 706.9,608.4 710.1,628.9 712.9,656.0 716.6,646.3 720.3,656.0 723.8,635.5 727.0,640.9 730.7,643.0 734.0,665.8 737.2,658.2 740.5,661.5 743.7,660.4 748.0,670.1 752.4,673.0 757.8,677.7 761.0,664.7 764.7,664.3 768.2,674.0 771.9,665.8 775.6,669.7 778.4,661.5 781.6,651.7 784.9,650.6 788.8,643.0 792.5,638.7 795.7,632.2 799.0,627.9 802.2,649.5 806.1,660.4 809.2,652.8 813.1,639.8 815.9,637.0 819.6,652.8 822.8,652.8 825.6,657.1 829.3,681.0 832.6,688.6 836.5,686.0 839.7,701.6 843.0,687.5 846.7,690.7 849.9,677.7 853.2,678.2 856.9,677.3 860.8,657.1 864.0,648.5 867.3,651.7 871.2,663.6 873.8,664.7 877.7,649.1 881.4,672.3 884.6,664.5 887.8,672.8 890.8,719.3 895.0,720.0 898.2,693.5 902.1,683.8 907.1,696.2 911.4,701.6 915.3,706.3 919.0,702.7 922.3,694.6 926.0,690.7 932.0,701.1 938.5,686.8 942.9,686.4 946.1,674.5 949.4,678.8 953.3,687.5 956.3,689.6 960.2,701.6 964.5,696.8 968.9,695.5 973.2,711.3 976.9,722.8 980.2,709.2 984.1,711.3 986.9,688.1 990.6,689.6 993.8,683.1 997.1,677.7 1001.0,690.7 1005.7,697.7 1011.2,709.2 1014.4,707.0 1020.9,717.8 1025.2,712.4 1029.6,717.8 1034.3,729.8 1039.3,731.5 1042.6,726.5 1045.8,713.5 1048.7,715.7 1052.3,704.8 1055.6,705.9 1059.9,712.6 1065.6,714.1 1069.1,724.3 1072.5,686.4 1076.2,676.0 1079.6,679.9 1083.3,691.8 1086.0,692.9 1090.3,689.6 1093.5,674.5 1097.3,655.6 1101.1,666.9 1105.5,682.1 1110.0,688.6 1115.3,696.2 1119.6,698.3 1123.9,708.1 1127.2,714.6 1131.1,692.9 1134.8,695.1 1138.0,697.2 1141.3,694.0 1146.7,700.5 1151.0,708.1 1155.4,701.6 1158.6,682.7 1161.9,683.1 1165.1,694.0 1168.4,695.1 1172.1,705.9 1175.5,682.1 1178.8,653.9 1182.0,657.8 1185.7,651.7 1189.4,638.3 1192.2,639.8 1196.1,653.4 1196.1,609.5" fill="url(#gUp)" clip-path="url(#cUp)"/>
<polygon points="11.3,716 11.3,674.5 15.6,681.0 18.8,685.3 23.2,675.6 26.4,669.1 29.7,675.6 32.9,689.6 36.2,708.1 39.0,705.9 42.7,717.8 47.0,722.2 50.3,725.0 54.0,724.3 56.8,725.9 60.0,728.7 63.3,710.2 66.5,686.4 69.8,677.7 74.1,673.4 77.4,677.7 80.6,683.1 83.9,685.3 87.1,669.7 90.8,687.5 94.7,677.7 98.0,668.0 101.2,681.0 104.5,676.6 108.2,677.7 111.0,701.6 114.2,701.1 118.1,709.2 121.8,710.2 125.1,713.5 128.3,699.4 130.5,640.9 132.0,599.7 133.3,619.2 135.3,652.8 138.1,644.1 142.0,638.7 145.7,651.7 148.9,662.5 151.5,664.7 155.4,675.6 159.1,682.1 162.6,674.5 165.8,671.2 169.1,676.0 172.8,670.1 176.0,668.6 180.3,675.1 183.6,673.4 186.8,675.1 190.1,666.5 193.3,671.2 196.6,673.4 200.9,674.5 204.2,671.2 207.4,665.8 210.0,663.6 213.5,666.9 216.5,664.7 219.4,671.2 223.0,682.1 226.9,685.3 230.5,685.3 233.9,679.9 238.2,689.6 241.9,685.3 245.2,682.1 248.4,683.8 251.7,705.9 254.9,700.5 257.7,707.0 261.4,677.3 264.7,683.1 268.6,677.7 272.3,665.2 275.5,672.3 278.8,673.0 282.0,681.6 285.9,681.0 289.6,677.7 293.9,672.3 296.1,672.3 299.4,676.0 303.3,673.4 305.9,647.4 309.8,639.8 313.0,632.2 316.3,635.5 320.0,639.8 323.2,642.0 326.5,641.3 330.2,648.5 334.1,657.1 336.9,644.8 340.1,648.5 343.8,648.5 347.1,663.6 351.0,671.7 354.2,661.5 357.9,665.8 360.7,621.4 364.0,618.1 367.7,600.8 370.9,620.9 374.8,618.1 378.1,614.9 381.7,630.0 385.0,649.1 388.2,651.7 392.1,658.6 395.2,651.7 399.1,659.7 402.3,658.2 405.6,650.6 408.8,632.2 412.1,661.5 416.0,661.9 419.7,657.1 422.9,656.0 426.2,657.8 429.4,663.6 432.7,674.5 435.9,689.0 441.4,690.7 446.8,688.6 450.0,691.8 453.3,700.9 456.9,714.6 460.2,693.5 463.4,688.6 466.9,683.8 470.6,662.5 473.8,657.1 477.7,672.3 481.4,686.4 484.7,694.0 487.9,699.0 491.2,694.0 494.0,695.1 497.7,702.7 500.9,705.5 505.3,707.0 508.5,716.7 515.0,727.6 518.3,696.2 522.2,692.9 525.9,702.7 529.8,707.0 535.2,699.4 538.9,689.0 542.1,690.7 546.0,705.9 548.6,677.7 553.0,666.2 556.2,679.9 559.5,676.6 562.7,671.2 566.4,674.5 570.3,669.1 573.6,645.2 576.8,623.5 580.1,613.8 583.3,613.8 586.6,605.1 589.8,605.8 593.1,602.9 596.3,598.6 600.7,584.5 603.9,587.8 608.2,582.3 613.7,574.1 618.0,571.9 619.7,604.0 621.3,627.9 624.1,633.3 628.8,629.6 634.3,624.6 638.2,646.3 641.9,651.7 645.1,660.4 649.4,673.4 654.9,688.6 658.1,677.7 662.4,660.4 666.1,672.3 669.4,664.7 672.2,647.2 675.5,645.8 679.1,640.9 683.0,642.0 686.3,656.0 689.5,634.4 693.2,613.8 696.4,609.4 699.9,605.1 702.9,617.0 706.9,608.4 710.1,628.9 712.9,656.0 716.6,646.3 720.3,656.0 723.8,635.5 727.0,640.9 730.7,643.0 734.0,665.8 737.2,658.2 740.5,661.5 743.7,660.4 748.0,670.1 752.4,673.0 757.8,677.7 761.0,664.7 764.7,664.3 768.2,674.0 771.9,665.8 775.6,669.7 778.4,661.5 781.6,651.7 784.9,650.6 788.8,643.0 792.5,638.7 795.7,632.2 799.0,627.9 802.2,649.5 806.1,660.4 809.2,652.8 813.1,639.8 815.9,637.0 819.6,652.8 822.8,652.8 825.6,657.1 829.3,681.0 832.6,688.6 836.5,686.0 839.7,701.6 843.0,687.5 846.7,690.7 849.9,677.7 853.2,678.2 856.9,677.3 860.8,657.1 864.0,648.5 867.3,651.7 871.2,663.6 873.8,664.7 877.7,649.1 881.4,672.3 884.6,664.5 887.8,672.8 890.8,719.3 895.0,720.0 898.2,693.5 902.1,683.8 907.1,696.2 911.4,701.6 915.3,706.3 919.0,702.7 922.3,694.6 926.0,690.7 932.0,701.1 938.5,686.8 942.9,686.4 946.1,674.5 949.4,678.8 953.3,687.5 956.3,689.6 960.2,701.6 964.5,696.8 968.9,695.5 973.2,711.3 976.9,722.8 980.2,709.2 984.1,711.3 986.9,688.1 990.6,689.6 993.8,683.1 997.1,677.7 1001.0,690.7 1005.7,697.7 1011.2,709.2 1014.4,707.0 1020.9,717.8 1025.2,712.4 1029.6,717.8 1034.3,729.8 1039.3,731.5 1042.6,726.5 1045.8,713.5 1048.7,715.7 1052.3,704.8 1055.6,705.9 1059.9,712.6 1065.6,714.1 1069.1,724.3 1072.5,686.4 1076.2,676.0 1079.6,679.9 1083.3,691.8 1086.0,692.9 1090.3,689.6 1093.5,674.5 1097.3,655.6 1101.1,666.9 1105.5,682.1 1110.0,688.6 1115.3,696.2 1119.6,698.3 1123.9,708.1 1127.2,714.6 1131.1,692.9 1134.8,695.1 1138.0,697.2 1141.3,694.0 1146.7,700.5 1151.0,708.1 1155.4,701.6 1158.6,682.7 1161.9,683.1 1165.1,694.0 1168.4,695.1 1172.1,705.9 1175.5,682.1 1178.8,653.9 1182.0,657.8 1185.7,651.7 1189.4,638.3 1192.2,639.8 1196.1,653.4 1196.1,716" fill="url(#gDn)" clip-path="url(#cDn)"/>
<line x1="10" y1="609.5" x2="1275" y2="609.5" stroke="#787b86" stroke-width="1" stroke-dasharray="5 6"/>
<line x1="10" y1="663.5" x2="1275" y2="663.5" stroke="#787b86" stroke-opacity="0.5" stroke-width="1" stroke-dasharray="5 6"/>
<line x1="10" y1="716.5" x2="1275" y2="716.5" stroke="#787b86" stroke-width="1" stroke-dasharray="5 6"/>
<path d="M990,640.4 H1100.6 Q1107.6,640.4 1107.6,647.4 V665.7 Q1107.6,672.7 1100.6,672.7 H1053.4 L1056.7,730.8 L1037.2,672.7 H990 Q983,672.7 983,665.7 V647.4 Q983,640.4 990,640.4 Z" fill="none" stroke="#a5282f" stroke-width="1.5" stroke-linejoin="round"/>
<polyline points="12.3,657.1 18.8,660.4 25.3,665.8 34.0,675.6 42.7,685.3 51.4,695.1 60.0,703.3 66.5,704.8 75.2,705.5 83.9,702.7 94.7,695.1 103.4,685.3 109.9,680.3 116.4,682.1 122.9,687.5 127.2,690.3 132.6,683.8 138.1,681.0 142.4,676.6 148.9,674.0 155.4,673.0 164.1,669.1 172.8,661.5 176.0,659.3 179.3,663.6 185.8,668.0 194.4,671.7 203.1,673.0 211.8,671.2 219.4,670.1 226.9,672.3 238.7,675.6 248.4,677.7 258.2,684.7 267.9,687.5 277.7,684.7 286.4,683.8 295.0,682.1 303.7,676.6 312.4,668.6 321.1,662.1 329.7,656.0 338.4,650.0 347.1,647.4 353.6,648.0 359.0,650.2 364.4,647.4 373.1,642.6 381.7,638.3 391.5,639.1 401.3,637.0 408.8,636.1 414.3,643.0 425.1,651.7 438.1,659.3 448.9,666.9 455.4,676.0 460.0,679.2 469.5,684.2 482.5,686.0 493.4,687.5 504.2,688.6 515.0,696.2 525.9,703.7 534.5,705.5 545.4,704.2 554.1,698.3 562.7,690.3 571.4,685.3 580.1,671.2 588.7,653.9 597.4,638.7 606.1,621.4 614.8,604.0 621.3,598.0 627.8,599.7 635.3,602.9 642.9,610.5 649.4,621.4 655.9,635.5 666.8,653.9 673.3,657.6 678.7,659.3 686.3,661.0 691.7,658.2 700.3,645.2 709.0,634.8 716.6,632.2 726.4,631.8 734.0,632.6 741.5,638.7 750.2,649.5 757.8,658.2 767.6,661.5 778.4,666.9 787.1,664.7 795.7,660.4 804.4,654.3 813.1,651.7 819.6,647.8 825.0,646.3 830.4,649.1 838.0,655.0 847.8,666.9 856.4,671.2 865.1,674.0 873.8,675.1 881.4,672.3 887.6,669.1 895.2,673.0 906.0,675.6 916.9,687.5 926.6,695.1 935.3,699.4 945.0,694.0 955.9,692.9 966.7,690.7 977.5,695.1 988.4,696.8 1003.6,698.3 1018.7,701.6 1029.6,701.1 1038.3,708.1 1046.9,714.6 1057.8,717.2 1068.6,717.0 1079.5,708.1 1090.3,699.4 1101.2,690.3 1109.9,686.4 1117.4,683.1 1122.9,685.3 1127.2,688.6 1135.9,689.0 1143.5,691.8 1151.0,697.2 1156.5,699.0 1164.1,697.7 1172.7,696.8 1179.2,691.8 1186.8,685.3 1192.2,677.7 1196.1,675.1" fill="none" stroke="#fdd835" stroke-width="1.15" stroke-linejoin="round" stroke-linecap="round" />
<polyline points="11.3,674.5 15.6,681.0 18.8,685.3 23.2,675.6 26.4,669.1 29.7,675.6 32.9,689.6 36.2,708.1 39.0,705.9 42.7,717.8 47.0,722.2 50.3,725.0 54.0,724.3 56.8,725.9 60.0,728.7 63.3,710.2 66.5,686.4 69.8,677.7 74.1,673.4 77.4,677.7 80.6,683.1 83.9,685.3 87.1,669.7 90.8,687.5 94.7,677.7 98.0,668.0 101.2,681.0 104.5,676.6 108.2,677.7 111.0,701.6 114.2,701.1 118.1,709.2 121.8,710.2 125.1,713.5 128.3,699.4 130.5,640.9 132.0,599.7 133.3,619.2 135.3,652.8 138.1,644.1 142.0,638.7 145.7,651.7 148.9,662.5 151.5,664.7 155.4,675.6 159.1,682.1 162.6,674.5 165.8,671.2 169.1,676.0 172.8,670.1 176.0,668.6 180.3,675.1 183.6,673.4 186.8,675.1 190.1,666.5 193.3,671.2 196.6,673.4 200.9,674.5 204.2,671.2 207.4,665.8 210.0,663.6 213.5,666.9 216.5,664.7 219.4,671.2 223.0,682.1 226.9,685.3 230.5,685.3 233.9,679.9 238.2,689.6 241.9,685.3 245.2,682.1 248.4,683.8 251.7,705.9 254.9,700.5 257.7,707.0 261.4,677.3 264.7,683.1 268.6,677.7 272.3,665.2 275.5,672.3 278.8,673.0 282.0,681.6 285.9,681.0 289.6,677.7 293.9,672.3 296.1,672.3 299.4,676.0 303.3,673.4 305.9,647.4 309.8,639.8 313.0,632.2 316.3,635.5 320.0,639.8 323.2,642.0 326.5,641.3 330.2,648.5 334.1,657.1 336.9,644.8 340.1,648.5 343.8,648.5 347.1,663.6 351.0,671.7 354.2,661.5 357.9,665.8 360.7,621.4 364.0,618.1 367.7,600.8 370.9,620.9 374.8,618.1 378.1,614.9 381.7,630.0 385.0,649.1 388.2,651.7 392.1,658.6 395.2,651.7 399.1,659.7 402.3,658.2 405.6,650.6 408.8,632.2 412.1,661.5 416.0,661.9 419.7,657.1 422.9,656.0 426.2,657.8 429.4,663.6 432.7,674.5 435.9,689.0 441.4,690.7 446.8,688.6 450.0,691.8 453.3,700.9 456.9,714.6 460.2,693.5 463.4,688.6 466.9,683.8 470.6,662.5 473.8,657.1 477.7,672.3 481.4,686.4 484.7,694.0 487.9,699.0 491.2,694.0 494.0,695.1 497.7,702.7 500.9,705.5 505.3,707.0 508.5,716.7 515.0,727.6 518.3,696.2 522.2,692.9 525.9,702.7 529.8,707.0 535.2,699.4 538.9,689.0 542.1,690.7 546.0,705.9 548.6,677.7 553.0,666.2 556.2,679.9 559.5,676.6 562.7,671.2 566.4,674.5 570.3,669.1 573.6,645.2 576.8,623.5 580.1,613.8 583.3,613.8 586.6,605.1 589.8,605.8 593.1,602.9 596.3,598.6 600.7,584.5 603.9,587.8 608.2,582.3 613.7,574.1 618.0,571.9 619.7,604.0 621.3,627.9 624.1,633.3 628.8,629.6 634.3,624.6 638.2,646.3 641.9,651.7 645.1,660.4 649.4,673.4 654.9,688.6 658.1,677.7 662.4,660.4 666.1,672.3 669.4,664.7 672.2,647.2 675.5,645.8 679.1,640.9 683.0,642.0 686.3,656.0 689.5,634.4 693.2,613.8 696.4,609.4 699.9,605.1 702.9,617.0 706.9,608.4 710.1,628.9 712.9,656.0 716.6,646.3 720.3,656.0 723.8,635.5 727.0,640.9 730.7,643.0 734.0,665.8 737.2,658.2 740.5,661.5 743.7,660.4 748.0,670.1 752.4,673.0 757.8,677.7 761.0,664.7 764.7,664.3 768.2,674.0 771.9,665.8 775.6,669.7 778.4,661.5 781.6,651.7 784.9,650.6 788.8,643.0 792.5,638.7 795.7,632.2 799.0,627.9 802.2,649.5 806.1,660.4 809.2,652.8 813.1,639.8 815.9,637.0 819.6,652.8 822.8,652.8 825.6,657.1 829.3,681.0 832.6,688.6 836.5,686.0 839.7,701.6 843.0,687.5 846.7,690.7 849.9,677.7 853.2,678.2 856.9,677.3 860.8,657.1 864.0,648.5 867.3,651.7 871.2,663.6 873.8,664.7 877.7,649.1 881.4,672.3 884.6,664.5 887.8,672.8 890.8,719.3 895.0,720.0 898.2,693.5 902.1,683.8 907.1,696.2 911.4,701.6 915.3,706.3 919.0,702.7 922.3,694.6 926.0,690.7 932.0,701.1 938.5,686.8 942.9,686.4 946.1,674.5 949.4,678.8 953.3,687.5 956.3,689.6 960.2,701.6 964.5,696.8 968.9,695.5 973.2,711.3 976.9,722.8 980.2,709.2 984.1,711.3 986.9,688.1 990.6,689.6 993.8,683.1 997.1,677.7 1001.0,690.7 1005.7,697.7 1011.2,709.2 1014.4,707.0 1020.9,717.8 1025.2,712.4 1029.6,717.8 1034.3,729.8 1039.3,731.5 1042.6,726.5 1045.8,713.5 1048.7,715.7 1052.3,704.8 1055.6,705.9 1059.9,712.6 1065.6,714.1 1069.1,724.3 1072.5,686.4 1076.2,676.0 1079.6,679.9 1083.3,691.8 1086.0,692.9 1090.3,689.6 1093.5,674.5 1097.3,655.6 1101.1,666.9 1105.5,682.1 1110.0,688.6 1115.3,696.2 1119.6,698.3 1123.9,708.1 1127.2,714.6 1131.1,692.9 1134.8,695.1 1138.0,697.2 1141.3,694.0 1146.7,700.5 1151.0,708.1 1155.4,701.6 1158.6,682.7 1161.9,683.1 1165.1,694.0 1168.4,695.1 1172.1,705.9 1175.5,682.1 1178.8,653.9 1182.0,657.8 1185.7,651.7 1189.4,638.3 1192.2,639.8 1196.1,653.4" fill="none" stroke="#7e57c2" stroke-width="2.8" stroke-linejoin="round" stroke-linecap="round" />
<line x1="1030.7" y1="735.8" x2="1176.4" y2="706.6" stroke="#1c3f94" stroke-width="3" stroke-linecap="butt"/>
</g>
<g id="callout-text">
<text x="993.8" y="660" font-size="12" fill="#a5282f" stroke="#a5282f" stroke-width="0.25" font-weight="normal" text-anchor="start" textLength="103" lengthAdjust="spacingAndGlyphs">Positive divergence</text>
</g>
<text x="10.4" y="19" font-size="12" fill="#131722" stroke="#131722" stroke-width="0.25" font-weight="normal" text-anchor="start" textLength="58.5" lengthAdjust="spacingAndGlyphs">ranadagger</text>
<text x="73.9" y="19" font-size="12" fill="#131722" stroke="#131722" stroke-width="0.25" font-weight="normal" text-anchor="start" textLength="40.6" lengthAdjust="spacingAndGlyphs">created</text>
<text x="118.9" y="19" font-size="12" fill="#131722" stroke="#131722" stroke-width="0.25" font-weight="normal" text-anchor="start" textLength="22.6" lengthAdjust="spacingAndGlyphs">with</text>
<text x="146.5" y="19" font-size="12" fill="#131722" stroke="#131722" stroke-width="0.25" font-weight="normal" text-anchor="start" textLength="93.3" lengthAdjust="spacingAndGlyphs">TradingView.com,</text>
<text x="244.9" y="19" font-size="12" fill="#131722" stroke="#131722" stroke-width="0.25" font-weight="normal" text-anchor="start" textLength="17.3" lengthAdjust="spacingAndGlyphs">Jan</text>
<text x="266.6" y="19" font-size="12" fill="#131722" stroke="#131722" stroke-width="0.25" font-weight="normal" text-anchor="start" textLength="16.3" lengthAdjust="spacingAndGlyphs">07,</text>
<text x="287.6" y="19" font-size="12" fill="#131722" stroke="#131722" stroke-width="0.25" font-weight="normal" text-anchor="start" textLength="24.2" lengthAdjust="spacingAndGlyphs">2026</text>
<text x="317" y="19" font-size="12" fill="#131722" stroke="#131722" stroke-width="0.25" font-weight="normal" text-anchor="start" textLength="28.8" lengthAdjust="spacingAndGlyphs">14:30</text>
<text x="350.3" y="19" font-size="12" fill="#131722" stroke="#131722" stroke-width="0.25" font-weight="normal" text-anchor="start" textLength="20.7" lengthAdjust="spacingAndGlyphs">UTC</text>
<text x="18.4" y="46" font-size="12" fill="#131722" stroke="#131722" stroke-width="0.25" font-weight="normal" text-anchor="start" textLength="42.6" lengthAdjust="spacingAndGlyphs">Cardano</text>
<text x="68" y="46" font-size="12" fill="#131722" stroke="#131722" stroke-width="0.25" font-weight="normal" text-anchor="start" textLength="4.3" lengthAdjust="spacingAndGlyphs">/</text>
<text x="76.9" y="46" font-size="12" fill="#131722" stroke="#131722" stroke-width="0.25" font-weight="normal" text-anchor="start" textLength="46" lengthAdjust="spacingAndGlyphs">TetherUS</text>
<text x="127.6" y="46" font-size="12" fill="#131722" stroke="#131722" stroke-width="0.25" font-weight="normal" text-anchor="start" textLength="2.6" lengthAdjust="spacingAndGlyphs">·</text>
<text x="135.9" y="46" font-size="12" fill="#131722" stroke="#131722" stroke-width="0.25" font-weight="normal" text-anchor="start" textLength="13" lengthAdjust="spacingAndGlyphs">1D</text>
<text x="154.6" y="46" font-size="12" fill="#131722" stroke="#131722" stroke-width="0.25" font-weight="normal" text-anchor="start" textLength="2.6" lengthAdjust="spacingAndGlyphs">·</text>
<text x="161.5" y="46" font-size="12" fill="#131722" stroke="#131722" stroke-width="0.25" font-weight="normal" text-anchor="start" textLength="40.3" lengthAdjust="spacingAndGlyphs">Binance</text>
<text x="210.2" y="46" font-size="12" fill="#131722" stroke="#131722" stroke-width="0.25" font-weight="normal" text-anchor="start" textLength="7.6" lengthAdjust="spacingAndGlyphs">O</text>
<text x="218" y="46" font-size="12" fill="#ef5350" stroke="#ef5350" stroke-width="0.25" font-weight="normal" text-anchor="start" textLength="36" lengthAdjust="spacingAndGlyphs">0.4194</text>
<text x="261.7" y="46" font-size="12" fill="#131722" stroke="#131722" stroke-width="0.25" font-weight="normal" text-anchor="start" textLength="7.2" lengthAdjust="spacingAndGlyphs">H</text>
<text x="269.3" y="46" font-size="12" fill="#ef5350" stroke="#ef5350" stroke-width="0.25" font-weight="normal" text-anchor="start" textLength="36" lengthAdjust="spacingAndGlyphs">0.4228</text>
<text x="312.5" y="46" font-size="12" fill="#131722" stroke="#131722" stroke-width="0.25" font-weight="normal" text-anchor="start" textLength="5.3" lengthAdjust="spacingAndGlyphs">L</text>
<text x="318" y="46" font-size="12" fill="#ef5350" stroke="#ef5350" stroke-width="0.25" font-weight="normal" text-anchor="start" textLength="36" lengthAdjust="spacingAndGlyphs">0.4025</text>
<text x="361.2" y="46" font-size="12" fill="#131722" stroke="#131722" stroke-width="0.25" font-weight="normal" text-anchor="start" textLength="6.6" lengthAdjust="spacingAndGlyphs">C</text>
<text x="368" y="46" font-size="12" fill="#ef5350" stroke="#ef5350" stroke-width="0.25" font-weight="normal" text-anchor="start" textLength="36" lengthAdjust="spacingAndGlyphs">0.4027</text>
<text x="411.7" y="46" font-size="12" fill="#ef5350" stroke="#ef5350" stroke-width="0.25" font-weight="normal" text-anchor="start" textLength="90.6" lengthAdjust="spacingAndGlyphs">−0.0167 (−3.98%)</text>
<text x="18.4" y="63" font-size="12" fill="#131722" stroke="#131722" stroke-width="0.25" font-weight="normal" text-anchor="start" textLength="21" lengthAdjust="spacingAndGlyphs">EMA</text>
<text x="44.4" y="63" font-size="12" fill="#131722" stroke="#131722" stroke-width="0.25" font-weight="normal" text-anchor="start" textLength="20" lengthAdjust="spacingAndGlyphs">(20,</text>
<text x="69" y="63" font-size="12" fill="#131722" stroke="#131722" stroke-width="0.25" font-weight="normal" text-anchor="start" textLength="30.4" lengthAdjust="spacingAndGlyphs">close)</text>
<text x="107.6" y="63" font-size="12" fill="#2962ff" stroke="#2962ff" stroke-width="0.25" font-weight="normal" text-anchor="start" textLength="36" lengthAdjust="spacingAndGlyphs">0.3864</text>
<text x="18.4" y="80" font-size="12" fill="#131722" stroke="#131722" stroke-width="0.25" font-weight="normal" text-anchor="start" textLength="20.6" lengthAdjust="spacingAndGlyphs">SMA</text>
<text x="44" y="80" font-size="12" fill="#131722" stroke="#131722" stroke-width="0.25" font-weight="normal" text-anchor="start" textLength="20" lengthAdjust="spacingAndGlyphs">(50,</text>
<text x="68.6" y="80" font-size="12" fill="#131722" stroke="#131722" stroke-width="0.25" font-weight="normal" text-anchor="start" textLength="30.4" lengthAdjust="spacingAndGlyphs">close)</text>
<text x="107.2" y="80" font-size="12" fill="#f23645" stroke="#f23645" stroke-width="0.25" font-weight="normal" text-anchor="start" textLength="36" lengthAdjust="spacingAndGlyphs">0.3998</text>
<text x="18.3" y="582" font-size="12" fill="#131722" stroke="#131722" stroke-width="0.25" font-weight="normal" text-anchor="start" textLength="15" lengthAdjust="spacingAndGlyphs">RSI</text>
<text x="38.7" y="582" font-size="12" fill="#131722" stroke="#131722" stroke-width="0.25" font-weight="normal" text-anchor="start" textLength="19.6" lengthAdjust="spacingAndGlyphs">(14,</text>
<text x="62.8" y="582" font-size="12" fill="#131722" stroke="#131722" stroke-width="0.25" font-weight="normal" text-anchor="start" textLength="30.7" lengthAdjust="spacingAndGlyphs">close)</text>
<text x="101.8" y="582" font-size="12" fill="#7e57c2" stroke="#7e57c2" stroke-width="0.25" font-weight="normal" text-anchor="start" textLength="29" lengthAdjust="spacingAndGlyphs">53.51</text>
<text x="138" y="582" font-size="12" fill="#fbc02d" stroke="#fbc02d" stroke-width="0.25" font-weight="normal" text-anchor="start" textLength="30" lengthAdjust="spacingAndGlyphs">45.45</text>
<text x="1284" y="98.10000000000001" font-size="12" fill="#131722" stroke="#131722" stroke-width="0.25" font-weight="normal" text-anchor="start" textLength="35.6" lengthAdjust="spacingAndGlyphs">1.1000</text>
<text x="1284" y="151.39999999999998" font-size="12" fill="#131722" stroke="#131722" stroke-width="0.25" font-weight="normal" text-anchor="start" textLength="35.6" lengthAdjust="spacingAndGlyphs">1.0000</text>
<text x="1284" y="204.7" font-size="12" fill="#131722" stroke="#131722" stroke-width="0.25" font-weight="normal" text-anchor="start" textLength="35.6" lengthAdjust="spacingAndGlyphs">0.9000</text>
<text x="1284" y="258.0" font-size="12" fill="#131722" stroke="#131722" stroke-width="0.25" font-weight="normal" text-anchor="start" textLength="35.6" lengthAdjust="spacingAndGlyphs">0.8000</text>
<text x="1284" y="311.4" font-size="12" fill="#131722" stroke="#131722" stroke-width="0.25" font-weight="normal" text-anchor="start" textLength="35.6" lengthAdjust="spacingAndGlyphs">0.7000</text>
<text x="1284" y="364.7" font-size="12" fill="#131722" stroke="#131722" stroke-width="0.25" font-weight="normal" text-anchor="start" textLength="35.6" lengthAdjust="spacingAndGlyphs">0.6000</text>
<text x="1284.2" y="586.9" font-size="12" fill="#131722" stroke="#131722" stroke-width="0.25" font-weight="normal" text-anchor="start" textLength="29.2" lengthAdjust="spacingAndGlyphs">80.00</text>
<text x="1284.2" y="641.0" font-size="12" fill="#131722" stroke="#131722" stroke-width="0.25" font-weight="normal" text-anchor="start" textLength="29.2" lengthAdjust="spacingAndGlyphs">60.00</text>
<text x="1284.2" y="693.8" font-size="12" fill="#131722" stroke="#131722" stroke-width="0.25" font-weight="normal" text-anchor="start" textLength="29.2" lengthAdjust="spacingAndGlyphs">40.00</text>
<rect x="1279.5" y="31.3" width="57.5" height="26" rx="4" ry="4" fill="#fff" stroke="#f0f1f3" stroke-width="1.2"/>
<text x="1288.3" y="48.7" font-size="12" fill="#131722" stroke="#131722" stroke-width="0.25" font-weight="normal" text-anchor="start" textLength="27.3" lengthAdjust="spacingAndGlyphs">USDT</text>
<text x="23.599999999999998" y="760" font-size="12" fill="#131722" stroke="#131722" stroke-width="0.25" font-weight="normal" text-anchor="start" textLength="19.2" lengthAdjust="spacingAndGlyphs">Feb</text>
<text x="118.4" y="760" font-size="12" fill="#131722" stroke="#131722" stroke-width="0.25" font-weight="normal" text-anchor="start" textLength="19.6" lengthAdjust="spacingAndGlyphs">Mar</text>
<text x="225.0" y="760" font-size="12" fill="#131722" stroke="#131722" stroke-width="0.25" font-weight="normal" text-anchor="start" textLength="18.4" lengthAdjust="spacingAndGlyphs">Apr</text>
<text x="327.0" y="760" font-size="12" fill="#131722" stroke="#131722" stroke-width="0.25" font-weight="normal" text-anchor="start" textLength="20.4" lengthAdjust="spacingAndGlyphs">May</text>
<text x="434.55" y="760" font-size="12" fill="#131722" stroke="#131722" stroke-width="0.25" font-weight="normal" text-anchor="start" textLength="17.3" lengthAdjust="spacingAndGlyphs">Jun</text>
<text x="538.5500000000001" y="760" font-size="12" fill="#131722" stroke="#131722" stroke-width="0.25" font-weight="normal" text-anchor="start" textLength="15.3" lengthAdjust="spacingAndGlyphs">Jul</text>
<text x="642.5500000000001" y="760" font-size="12" fill="#131722" stroke="#131722" stroke-width="0.25" font-weight="normal" text-anchor="start" textLength="19.3" lengthAdjust="spacingAndGlyphs">Aug</text>
<text x="748.5500000000001" y="760" font-size="12" fill="#131722" stroke="#131722" stroke-width="0.25" font-weight="normal" text-anchor="start" textLength="19.3" lengthAdjust="spacingAndGlyphs">Sep</text>
<text x="852.2" y="760" font-size="12" fill="#131722" stroke="#131722" stroke-width="0.25" font-weight="normal" text-anchor="start" textLength="18" lengthAdjust="spacingAndGlyphs">Oct</text>
<text x="957.2" y="760" font-size="12" fill="#131722" stroke="#131722" stroke-width="0.25" font-weight="normal" text-anchor="start" textLength="20" lengthAdjust="spacingAndGlyphs">Nov</text>
<text x="1059.55" y="760" font-size="12" fill="#131722" stroke="#131722" stroke-width="0.25" font-weight="normal" text-anchor="start" textLength="19.3" lengthAdjust="spacingAndGlyphs">Dec</text>
<text x="1161.3" y="760" font-size="12" fill="#131722" stroke="#131722" stroke-width="0" font-weight="bold" text-anchor="start" textLength="28" lengthAdjust="spacingAndGlyphs">2026</text>
<path d="M1276,406 H1322 Q1325,406 1325,409 V420 Q1325,423 1322,423 H1276 V406 Z" fill="#0000ff"/>
<text x="1283.8" y="418.6" font-size="12" fill="#fff" stroke="#fff" stroke-width="0.25" font-weight="normal" text-anchor="start" textLength="36" lengthAdjust="spacingAndGlyphs">0.5000</text>
<path d="M1220,457 H1275 V474 H1220 Q1217,474 1217,471 V460 Q1217,457 1220,457 Z" fill="#ef5350"/>
<text x="1221.5" y="469.8" font-size="12" fill="#fff" stroke="#fff" stroke-width="0.25" font-weight="normal" text-anchor="start" textLength="48.5" lengthAdjust="spacingAndGlyphs">ADAUSDT</text>
<path d="M1276,457 H1333 Q1336,457 1336,460 V499 Q1336,502 1333,502 H1276 V457 Z" fill="#ef5350"/>
<text x="1283.8" y="469.8" font-size="12" fill="#fff" stroke="#fff" stroke-width="0.25" font-weight="normal" text-anchor="start" textLength="36" lengthAdjust="spacingAndGlyphs">0.4027</text>
<text x="1283.8" y="483.8" font-size="12" fill="#fff" stroke="#fff" stroke-width="0.25" font-weight="normal" text-anchor="start" textLength="43" lengthAdjust="spacingAndGlyphs">−58.77%</text>
<text x="1283.8" y="497.6" font-size="12" fill="#fbd0cf" stroke="#fbd0cf" stroke-width="0.25" font-weight="normal" text-anchor="start" textLength="47" lengthAdjust="spacingAndGlyphs">09:29:48</text>
<path d="M1228,502 H1275 V519 H1228 Q1225,519 1225,516 V505 Q1225,502 1228,502 Z" fill="#f23645"/>
<text x="1229.6" y="514.8" font-size="12" fill="#fff" stroke="#fff" stroke-width="0.25" font-weight="normal" text-anchor="start" textLength="41" lengthAdjust="spacingAndGlyphs">SMA:MA</text>
<path d="M1276,502 H1322 Q1325,502 1325,505 V516 Q1325,519 1322,519 H1276 V502 Z" fill="#f23645"/>
<text x="1283.8" y="514.8" font-size="12" fill="#fff" stroke="#fff" stroke-width="0.25" font-weight="normal" text-anchor="start" textLength="36" lengthAdjust="spacingAndGlyphs">0.3998</text>
<path d="M1247,519 H1275 V536 H1247 Q1244,536 1244,533 V522 Q1244,519 1247,519 Z" fill="#2962ff"/>
<text x="1248.8" y="531.8" font-size="12" fill="#fff" stroke="#fff" stroke-width="0.25" font-weight="normal" text-anchor="start" textLength="22.5" lengthAdjust="spacingAndGlyphs">EMA</text>
<path d="M1276,519 H1322 Q1325,519 1325,522 V533 Q1325,536 1322,536 H1276 V519 Z" fill="#2962ff"/>
<text x="1283.8" y="531.8" font-size="12" fill="#fff" stroke="#fff" stroke-width="0.25" font-weight="normal" text-anchor="start" textLength="36" lengthAdjust="spacingAndGlyphs">0.3864</text>
<path d="M1276,536 H1322 Q1325,536 1325,539 V550 Q1325,553 1322,553 H1276 V536 Z" fill="#0000ff"/>
<text x="1283.8" y="549" font-size="12" fill="#fff" stroke="#fff" stroke-width="0.25" font-weight="normal" text-anchor="start" textLength="36" lengthAdjust="spacingAndGlyphs">0.3700</text>
<path d="M1253,645 H1275 V662 H1253 Q1250,662 1250,659 V648 Q1250,645 1253,645 Z" fill="#7e57c2"/>
<text x="1254.6" y="657.8" font-size="12" fill="#fff" stroke="#fff" stroke-width="0.25" font-weight="normal" text-anchor="start" textLength="16.5" lengthAdjust="spacingAndGlyphs">RSI</text>
<path d="M1276,645 H1316 Q1319,645 1319,648 V659 Q1319,662 1316,662 H1276 V645 Z" fill="#7e57c2"/>
<text x="1284" y="657.8" font-size="12" fill="#fff" stroke="#fff" stroke-width="0.25" font-weight="normal" text-anchor="start" textLength="29.4" lengthAdjust="spacingAndGlyphs">53.51</text>
<path d="M1199,667 H1275 V684 H1199 Q1196,684 1196,681 V670 Q1196,667 1199,667 Z" fill="#fdd835"/>
<text x="1200.3" y="679.8" font-size="12" fill="#131722" stroke="#131722" stroke-width="0.25" font-weight="normal" text-anchor="start" textLength="71" lengthAdjust="spacingAndGlyphs">RSI-based MA</text>
<path d="M1276,667 H1316 Q1319,667 1319,670 V681 Q1319,684 1316,684 H1276 V667 Z" fill="#fdd835"/>
<text x="1284" y="679.8" font-size="12" fill="#131722" stroke="#131722" stroke-width="0.25" font-weight="normal" text-anchor="start" textLength="29.4" lengthAdjust="spacingAndGlyphs">45.45</text>
<g fill="none" stroke="#9c27b0" stroke-width="1.6" stroke-linecap="round">
<path d="M1199.6,540.1 A9.7,9.7 0 1 0 1206,547.0"/>
</g>
<path d="M1198.6,544.4 L1192.4,549.7 L1196.2,549.9 L1193.2,554.8 L1200.9,549.2 L1196.9,549 Z" fill="#9c27b0" stroke="#9c27b0" stroke-width="0.4" stroke-linejoin="round"/>
<circle cx="1203.4" cy="542.5" r="2.6" fill="#f23645"/>
<g fill="#151515">
<path d="M12.1,792 H24 V806.8 H18.2 V798 H12.1 Z"/>
<circle cx="28.9" cy="795" r="2.9"/>
<path d="M32.6,792 H41.9 L36.3,806.8 H29 Z"/>
</g>
<text x="49.3" y="806.8" font-size="20" fill="#151515" stroke="#151515" stroke-width="0.25" font-weight="bold" text-anchor="start" textLength="120.2" lengthAdjust="spacingAndGlyphs">TradingView</text>
</svg></body></html>
